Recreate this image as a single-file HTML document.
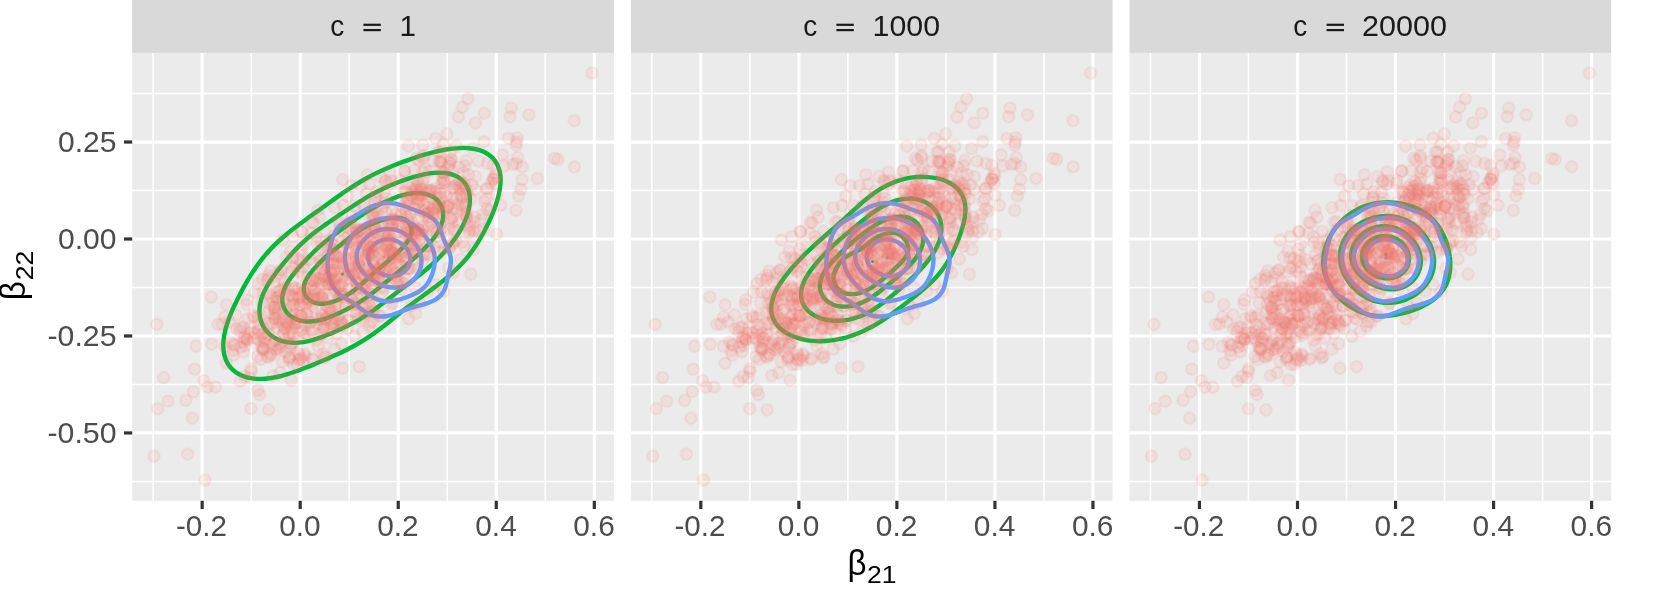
<!DOCTYPE html>
<html><head><meta charset="utf-8"><title>plot</title>
<style>html,body{margin:0;padding:0;background:#fff;overflow:hidden;width:1653px;height:590px;}svg{display:block;will-change:transform;}text{font-family:"Liberation Sans",sans-serif;}</style>
</head><body>
<svg width="1653" height="590" viewBox="0 0 1653 590">
<rect width="1653" height="590" fill="#fff"/>
<defs>
<g id="grid"><rect x="132.2" y="52.9" width="481.7" height="447.9" fill="#EBEBEB"/><line x1="153.14" x2="153.14" y1="52.9" y2="500.8" stroke="#fff" stroke-width="1.6"/><line x1="251.18" x2="251.18" y1="52.9" y2="500.8" stroke="#fff" stroke-width="1.6"/><line x1="349.22" x2="349.22" y1="52.9" y2="500.8" stroke="#fff" stroke-width="1.6"/><line x1="447.26" x2="447.26" y1="52.9" y2="500.8" stroke="#fff" stroke-width="1.6"/><line x1="545.30" x2="545.30" y1="52.9" y2="500.8" stroke="#fff" stroke-width="1.6"/><line x1="132.2" x2="613.9" y1="93.54" y2="93.54" stroke="#fff" stroke-width="1.6"/><line x1="132.2" x2="613.9" y1="190.51" y2="190.51" stroke="#fff" stroke-width="1.6"/><line x1="132.2" x2="613.9" y1="287.49" y2="287.49" stroke="#fff" stroke-width="1.6"/><line x1="132.2" x2="613.9" y1="384.46" y2="384.46" stroke="#fff" stroke-width="1.6"/><line x1="132.2" x2="613.9" y1="481.44" y2="481.44" stroke="#fff" stroke-width="1.6"/><line x1="202.16" x2="202.16" y1="52.9" y2="500.8" stroke="#fff" stroke-width="3.2"/><line x1="300.20" x2="300.20" y1="52.9" y2="500.8" stroke="#fff" stroke-width="3.2"/><line x1="398.24" x2="398.24" y1="52.9" y2="500.8" stroke="#fff" stroke-width="3.2"/><line x1="496.28" x2="496.28" y1="52.9" y2="500.8" stroke="#fff" stroke-width="3.2"/><line x1="594.32" x2="594.32" y1="52.9" y2="500.8" stroke="#fff" stroke-width="3.2"/><line x1="132.2" x2="613.9" y1="142.03" y2="142.03" stroke="#fff" stroke-width="3.2"/><line x1="132.2" x2="613.9" y1="239.00" y2="239.00" stroke="#fff" stroke-width="3.2"/><line x1="132.2" x2="613.9" y1="335.98" y2="335.98" stroke="#fff" stroke-width="3.2"/><line x1="132.2" x2="613.9" y1="432.95" y2="432.95" stroke="#fff" stroke-width="3.2"/><rect x="132.2" y="0" width="481.7" height="52.9" fill="#D9D9D9"/><line x1="202.16" x2="202.16" y1="500.8" y2="509.0" stroke="#333" stroke-width="3.2"/><line x1="300.20" x2="300.20" y1="500.8" y2="509.0" stroke="#333" stroke-width="3.2"/><line x1="398.24" x2="398.24" y1="500.8" y2="509.0" stroke="#333" stroke-width="3.2"/><line x1="496.28" x2="496.28" y1="500.8" y2="509.0" stroke="#333" stroke-width="3.2"/><line x1="594.32" x2="594.32" y1="500.8" y2="509.0" stroke="#333" stroke-width="3.2"/></g>
<g id="blue" fill="none" stroke="#619CFF" stroke-width="4.4" stroke-linejoin="round"><path d="M339.9,225.6C341.1,224.4 342.4,223.4 343.8,222.5C345.2,221.5 346.7,220.6 348.2,219.8C349.6,218.9 351.2,218.1 352.6,217.3C354.1,216.4 355.5,215.6 357.0,214.7C358.5,213.9 360.2,212.8 361.7,211.9C363.2,211.0 364.5,210.2 366.0,209.4C367.5,208.6 369.0,207.8 370.6,207.1C372.2,206.4 373.7,205.7 375.4,205.2C377.1,204.7 379.0,204.2 380.7,203.8C382.4,203.5 384.1,203.2 385.7,203.1C387.4,203.0 389.0,203.0 390.7,203.1C392.3,203.2 394.0,203.4 395.6,203.7C397.3,204.0 398.9,204.5 400.6,205.0C402.3,205.5 404.1,206.2 405.8,206.8C407.5,207.4 409.1,208.0 410.7,208.6C412.3,209.2 413.8,209.8 415.4,210.3C417.0,210.9 418.5,211.4 420.2,212.0C421.8,212.6 423.6,213.2 425.2,213.9C426.8,214.6 428.3,215.4 429.8,216.3C431.2,217.2 432.6,218.2 433.9,219.4C435.1,220.6 436.2,221.9 437.2,223.3C438.2,224.7 438.9,226.1 439.6,227.7C440.4,229.3 440.9,231.1 441.5,232.7C442.1,234.4 442.5,235.9 443.1,237.5C443.6,239.0 444.2,240.6 444.9,242.2C445.6,243.8 446.3,245.3 447.1,246.9C447.8,248.6 448.7,250.4 449.3,252.1C449.8,253.7 450.3,255.3 450.6,256.9C450.9,258.5 450.9,260.2 450.9,261.8C450.8,263.5 450.5,265.1 450.2,266.8C449.9,268.5 449.5,270.1 449.0,271.8C448.6,273.6 448.2,275.5 447.8,277.3C447.4,279.0 447.1,280.7 446.7,282.3C446.3,284.0 446.0,285.6 445.4,287.2C444.9,288.7 444.3,290.2 443.4,291.7C442.5,293.1 441.4,294.6 440.2,295.9C439.0,297.1 437.6,298.1 436.2,299.1C434.7,300.0 433.2,300.8 431.6,301.6C430.0,302.3 428.4,302.9 426.8,303.4C425.2,304.0 423.6,304.4 422.0,304.8C420.3,305.3 418.5,305.8 416.8,306.2C415.1,306.7 413.5,307.1 411.9,307.6C410.3,308.1 408.6,308.7 407.0,309.3C405.4,309.8 403.8,310.5 402.2,311.1C400.5,311.7 398.7,312.5 397.1,313.1C395.4,313.7 394.0,314.3 392.4,314.8C390.8,315.2 389.2,315.7 387.5,316.0C385.9,316.3 384.2,316.5 382.5,316.5C380.8,316.6 379.1,316.6 377.3,316.3C375.6,316.1 373.7,315.7 372.0,315.1C370.3,314.6 368.8,313.9 367.3,313.1C365.9,312.3 364.5,311.3 363.1,310.3C361.7,309.3 360.4,308.3 359.0,307.2C357.6,306.2 356.1,305.0 354.7,304.0C353.3,303.0 351.9,302.1 350.5,301.2C349.0,300.3 347.5,299.5 346.1,298.6C344.6,297.7 343.1,296.9 341.8,295.9C340.4,294.9 339.1,294.0 337.9,292.8C336.6,291.6 335.3,290.1 334.3,288.7C333.3,287.4 332.5,285.9 331.8,284.4C331.0,282.9 330.4,281.3 329.9,279.6C329.3,278.0 328.9,276.4 328.6,274.6C328.2,272.9 327.9,271.0 327.8,269.2C327.6,267.5 327.6,265.9 327.6,264.2C327.6,262.5 327.7,260.8 327.9,259.2C328.0,257.5 328.3,255.8 328.6,254.2C328.9,252.5 329.2,250.9 329.6,249.2C330.0,247.4 330.4,245.5 330.9,243.8C331.4,242.1 331.8,240.5 332.3,238.8C332.9,237.2 333.4,235.6 334.1,234.1C334.8,232.5 335.6,231.1 336.5,229.7C337.5,228.3 338.7,226.8 339.9,225.6Z"/><path d="M345.4,251.7C345.7,250.4 346.0,249.3 346.3,248.1C346.6,246.9 347.0,245.7 347.5,244.6C347.9,243.5 348.4,242.3 349.0,241.2C349.5,240.2 350.1,239.1 350.8,238.0C351.5,237.0 352.3,235.8 353.0,234.8C353.8,233.8 354.6,232.9 355.4,232.0C356.3,231.1 357.2,230.3 358.1,229.5C359.0,228.7 360.0,227.9 361.0,227.2C362.1,226.5 363.3,225.7 364.4,225.0C365.5,224.4 366.6,223.8 367.7,223.3C368.8,222.8 369.9,222.3 371.1,221.8C372.2,221.4 373.4,220.9 374.6,220.6C375.7,220.2 376.9,219.9 378.1,219.5C379.3,219.2 380.7,218.9 381.9,218.7C383.1,218.5 384.3,218.3 385.5,218.2C386.7,218.1 387.9,218.0 389.2,217.9C390.4,217.9 391.6,217.9 392.9,218.0C394.1,218.1 395.6,218.2 396.8,218.4C398.1,218.6 399.3,218.9 400.5,219.2C401.8,219.5 403.0,219.8 404.1,220.2C405.3,220.6 406.5,221.1 407.6,221.6C408.7,222.1 409.8,222.6 410.9,223.3C412.0,223.9 413.1,224.6 414.2,225.3C415.2,226.1 416.1,226.8 417.0,227.5C418.0,228.3 418.9,229.1 419.7,230.0C420.6,230.8 421.4,231.7 422.3,232.6C423.1,233.6 424.0,234.7 424.8,235.7C425.6,236.7 426.3,237.7 427.1,238.7C427.8,239.7 428.5,240.8 429.1,241.9C429.8,243.0 430.4,244.1 431.0,245.2C431.6,246.3 432.1,247.4 432.5,248.6C433.0,249.8 433.5,251.1 433.8,252.3C434.1,253.5 434.4,254.6 434.5,255.8C434.7,257.0 434.8,258.1 434.8,259.3C434.9,260.5 434.8,261.7 434.7,262.9C434.6,264.2 434.4,265.6 434.2,266.8C434.0,268.1 433.7,269.3 433.3,270.5C433.0,271.7 432.6,272.9 432.2,274.1C431.7,275.3 431.3,276.5 430.7,277.6C430.2,278.8 429.7,279.9 429.0,281.0C428.4,282.1 427.6,283.3 426.9,284.3C426.1,285.3 425.4,286.2 424.6,287.0C423.7,287.9 422.9,288.7 421.9,289.4C421.0,290.2 420.1,290.8 419.0,291.5C418.0,292.1 416.8,292.8 415.7,293.4C414.5,293.9 413.4,294.4 412.3,294.9C411.2,295.4 410.0,295.8 408.8,296.3C407.6,296.7 406.4,297.2 405.2,297.6C404.0,298.0 402.9,298.4 401.6,298.8C400.4,299.1 399.0,299.6 397.8,299.9C396.5,300.2 395.4,300.5 394.2,300.7C393.0,300.9 391.8,301.1 390.6,301.2C389.4,301.4 388.3,301.4 387.0,301.4C385.8,301.3 384.4,301.2 383.2,301.0C382.0,300.8 380.8,300.5 379.7,300.2C378.5,299.8 377.3,299.4 376.2,298.9C375.1,298.4 373.9,297.8 372.8,297.2C371.7,296.5 370.7,295.9 369.6,295.2C368.6,294.4 367.4,293.6 366.4,292.8C365.3,292.0 364.4,291.2 363.5,290.4C362.5,289.6 361.6,288.8 360.7,288.0C359.9,287.2 359.0,286.3 358.1,285.4C357.3,284.5 356.3,283.5 355.5,282.6C354.7,281.6 353.9,280.7 353.1,279.8C352.4,278.8 351.7,277.8 351.0,276.8C350.3,275.8 349.6,274.7 349.1,273.6C348.5,272.5 347.9,271.4 347.4,270.3C346.9,269.1 346.4,267.7 346.1,266.5C345.7,265.3 345.5,264.1 345.3,262.9C345.1,261.7 344.9,260.4 344.9,259.2C344.8,258.0 344.8,256.8 344.9,255.5C345.0,254.3 345.2,252.9 345.4,251.7Z"/><path d="M357.2,251.8C357.4,250.9 357.7,250.1 358.0,249.3C358.3,248.5 358.7,247.7 359.1,246.9C359.5,246.1 359.9,245.3 360.4,244.6C360.8,243.8 361.3,243.1 361.9,242.4C362.4,241.6 363.1,240.9 363.7,240.2C364.3,239.5 364.9,238.9 365.5,238.3C366.1,237.6 366.8,237.0 367.5,236.5C368.1,235.9 368.8,235.4 369.5,234.9C370.3,234.4 371.1,233.8 371.9,233.3C372.6,232.9 373.4,232.5 374.1,232.1C374.9,231.7 375.7,231.4 376.5,231.0C377.3,230.7 378.1,230.4 378.9,230.2C379.8,229.9 380.6,229.7 381.5,229.5C382.4,229.4 383.3,229.2 384.3,229.1C385.2,229.0 386.0,228.9 386.9,228.9C387.8,228.9 388.7,228.9 389.6,228.9C390.5,229.0 391.3,229.0 392.2,229.2C393.1,229.3 394.1,229.5 395.0,229.7C395.9,229.9 396.7,230.1 397.6,230.4C398.4,230.7 399.2,231.0 400.0,231.3C400.8,231.7 401.6,232.0 402.4,232.4C403.1,232.8 403.8,233.3 404.6,233.7C405.3,234.2 406.1,234.8 406.9,235.3C407.6,235.9 408.2,236.4 408.9,237.0C409.5,237.5 410.2,238.1 410.8,238.8C411.4,239.4 412.0,240.0 412.6,240.7C413.2,241.4 413.9,242.2 414.4,242.9C415.0,243.6 415.5,244.3 416.0,245.0C416.5,245.8 417.0,246.5 417.5,247.3C417.9,248.1 418.3,248.8 418.7,249.6C419.1,250.4 419.5,251.2 419.8,252.0C420.1,252.9 420.4,253.8 420.7,254.7C420.9,255.5 421.1,256.4 421.2,257.2C421.3,258.0 421.4,258.9 421.5,259.8C421.5,260.6 421.5,261.4 421.4,262.3C421.4,263.2 421.3,264.2 421.1,265.1C421.0,266.0 420.8,266.8 420.5,267.7C420.3,268.5 420.0,269.4 419.7,270.2C419.3,271.0 419.0,271.8 418.6,272.6C418.2,273.4 417.8,274.2 417.3,275.0C416.8,275.7 416.2,276.6 415.7,277.3C415.1,278.1 414.6,278.7 414.0,279.4C413.4,280.0 412.8,280.6 412.1,281.2C411.5,281.8 410.8,282.3 410.1,282.8C409.4,283.4 408.6,283.9 407.8,284.4C407.0,284.8 406.3,285.2 405.5,285.5C404.7,285.9 403.9,286.2 403.1,286.4C402.2,286.7 401.4,286.9 400.5,287.1C399.7,287.2 398.8,287.4 397.9,287.5C397.0,287.6 396.0,287.6 395.1,287.6C394.2,287.6 393.3,287.6 392.4,287.5C391.6,287.5 390.7,287.4 389.8,287.2C388.9,287.1 388.1,286.9 387.2,286.7C386.3,286.5 385.3,286.2 384.5,286.0C383.6,285.7 382.8,285.4 382.0,285.1C381.2,284.8 380.4,284.5 379.6,284.1C378.8,283.7 378.0,283.4 377.2,283.0C376.4,282.6 375.7,282.2 374.9,281.7C374.1,281.3 373.3,280.7 372.5,280.3C371.8,279.8 371.1,279.3 370.4,278.8C369.7,278.3 369.0,277.7 368.3,277.2C367.6,276.6 366.9,276.1 366.3,275.5C365.6,274.9 364.9,274.2 364.2,273.5C363.6,272.8 363.0,272.2 362.4,271.5C361.9,270.8 361.3,270.1 360.8,269.4C360.3,268.7 359.9,267.9 359.4,267.1C359.0,266.4 358.6,265.6 358.3,264.8C357.9,264.0 357.6,263.0 357.4,262.2C357.1,261.3 357.0,260.5 356.8,259.6C356.7,258.8 356.6,257.9 356.6,257.1C356.6,256.2 356.6,255.4 356.7,254.5C356.8,253.6 357.0,252.6 357.2,251.8Z"/><path d="M368.9,252.7C369.0,252.2 369.2,251.6 369.5,251.1C369.7,250.6 370.0,250.1 370.2,249.6C370.5,249.1 370.8,248.6 371.1,248.1C371.5,247.7 371.8,247.2 372.2,246.8C372.5,246.3 373.0,245.8 373.4,245.4C373.8,245.0 374.2,244.6 374.6,244.3C375.0,243.9 375.5,243.6 375.9,243.2C376.4,242.9 376.8,242.6 377.3,242.3C377.8,242.0 378.3,241.7 378.8,241.4C379.4,241.2 379.8,241.0 380.4,240.8C380.9,240.6 381.4,240.4 381.9,240.2C382.5,240.1 383.0,239.9 383.6,239.8C384.1,239.7 384.6,239.6 385.2,239.5C385.8,239.4 386.4,239.4 387.0,239.4C387.6,239.3 388.2,239.3 388.7,239.4C389.3,239.4 389.9,239.4 390.5,239.5C391.0,239.5 391.6,239.6 392.2,239.7C392.7,239.8 393.4,240.0 393.9,240.1C394.5,240.3 395.0,240.5 395.6,240.6C396.1,240.8 396.6,241.0 397.2,241.3C397.7,241.5 398.2,241.7 398.7,242.0C399.2,242.2 399.6,242.5 400.1,242.8C400.6,243.1 401.2,243.5 401.6,243.8C402.1,244.1 402.5,244.5 402.9,244.8C403.4,245.2 403.8,245.5 404.2,245.9C404.6,246.3 405.0,246.7 405.3,247.1C405.7,247.6 406.1,248.1 406.5,248.5C406.8,249.0 407.2,249.5 407.5,249.9C407.8,250.4 408.0,250.9 408.3,251.4C408.6,251.9 408.8,252.4 409.0,253.0C409.2,253.5 409.4,254.0 409.6,254.6C409.8,255.1 409.9,255.8 410.0,256.4C410.2,256.9 410.2,257.5 410.3,258.0C410.3,258.6 410.3,259.2 410.3,259.7C410.3,260.3 410.3,260.8 410.2,261.4C410.1,262.0 410.0,262.6 409.9,263.2C409.7,263.7 409.6,264.2 409.4,264.7C409.2,265.3 408.9,265.8 408.7,266.3C408.4,266.8 408.1,267.2 407.8,267.7C407.5,268.2 407.2,268.6 406.9,269.0C406.5,269.5 406.1,270.0 405.6,270.4C405.2,270.8 404.8,271.2 404.4,271.5C404.0,271.9 403.5,272.2 403.0,272.5C402.6,272.9 402.1,273.2 401.6,273.4C401.1,273.7 400.5,274.0 400.0,274.3C399.4,274.5 398.9,274.7 398.4,274.9C397.9,275.1 397.3,275.3 396.8,275.5C396.2,275.6 395.7,275.7 395.1,275.8C394.6,275.9 394.0,276.0 393.4,276.1C392.9,276.1 392.2,276.2 391.6,276.2C391.1,276.2 390.5,276.2 390.0,276.1C389.4,276.1 388.9,276.0 388.3,276.0C387.8,275.9 387.2,275.8 386.7,275.7C386.1,275.5 385.5,275.4 384.9,275.2C384.4,275.0 383.9,274.8 383.4,274.6C382.8,274.4 382.3,274.2 381.8,274.0C381.3,273.7 380.8,273.5 380.3,273.2C379.8,273.0 379.3,272.7 378.8,272.4C378.3,272.1 377.7,271.7 377.2,271.4C376.8,271.1 376.3,270.7 375.9,270.4C375.4,270.1 374.9,269.7 374.5,269.3C374.1,269.0 373.7,268.6 373.2,268.2C372.8,267.8 372.4,267.3 372.0,266.8C371.6,266.4 371.3,266.0 370.9,265.5C370.6,265.1 370.3,264.6 370.0,264.1C369.8,263.6 369.5,263.2 369.3,262.7C369.1,262.1 368.9,261.7 368.7,261.1C368.5,260.6 368.4,260.0 368.3,259.4C368.2,258.8 368.2,258.3 368.1,257.8C368.1,257.2 368.1,256.7 368.2,256.1C368.2,255.6 368.3,255.0 368.4,254.5C368.5,253.9 368.7,253.3 368.9,252.7Z"/><circle cx="388.7" cy="257.8" r="1.7" fill="#619CFF" stroke="none"/></g>
<g id="pts" fill="#F8766D" fill-opacity="0.1" stroke="#F8766D" stroke-opacity="0.1" stroke-width="2.2"><circle cx="365.6" cy="306.5" r="5.8"/><circle cx="365.5" cy="313.8" r="5.8"/><circle cx="348.3" cy="248.9" r="5.8"/><circle cx="268.6" cy="323.3" r="5.8"/><circle cx="345.7" cy="306.5" r="5.8"/><circle cx="204.8" cy="480.0" r="5.8"/><circle cx="272.9" cy="323.5" r="5.8"/><circle cx="289.3" cy="323.1" r="5.8"/><circle cx="574.3" cy="120.7" r="5.8"/><circle cx="385.8" cy="246.3" r="5.8"/><circle cx="399.3" cy="202.6" r="5.8"/><circle cx="350.0" cy="221.4" r="5.8"/><circle cx="359.9" cy="229.9" r="5.8"/><circle cx="269.1" cy="334.8" r="5.8"/><circle cx="410.6" cy="187.7" r="5.8"/><circle cx="395.7" cy="257.4" r="5.8"/><circle cx="290.1" cy="348.0" r="5.8"/><circle cx="319.5" cy="278.8" r="5.8"/><circle cx="367.2" cy="174.6" r="5.8"/><circle cx="437.7" cy="207.1" r="5.8"/><circle cx="432.5" cy="190.5" r="5.8"/><circle cx="423.4" cy="226.9" r="5.8"/><circle cx="281.0" cy="270.2" r="5.8"/><circle cx="359.1" cy="242.9" r="5.8"/><circle cx="367.8" cy="268.9" r="5.8"/><circle cx="440.5" cy="193.3" r="5.8"/><circle cx="433.1" cy="209.4" r="5.8"/><circle cx="325.5" cy="271.4" r="5.8"/><circle cx="483.8" cy="228.4" r="5.8"/><circle cx="391.5" cy="249.3" r="5.8"/><circle cx="319.4" cy="273.1" r="5.8"/><circle cx="321.9" cy="248.2" r="5.8"/><circle cx="308.0" cy="301.3" r="5.8"/><circle cx="383.0" cy="226.6" r="5.8"/><circle cx="310.2" cy="322.5" r="5.8"/><circle cx="421.5" cy="234.4" r="5.8"/><circle cx="422.8" cy="172.0" r="5.8"/><circle cx="373.3" cy="238.6" r="5.8"/><circle cx="351.2" cy="298.2" r="5.8"/><circle cx="408.3" cy="146.0" r="5.8"/><circle cx="462.3" cy="107.2" r="5.8"/><circle cx="289.8" cy="336.3" r="5.8"/><circle cx="357.2" cy="272.1" r="5.8"/><circle cx="378.5" cy="233.2" r="5.8"/><circle cx="487.2" cy="208.8" r="5.8"/><circle cx="294.9" cy="287.8" r="5.8"/><circle cx="406.0" cy="210.6" r="5.8"/><circle cx="292.2" cy="285.9" r="5.8"/><circle cx="361.5" cy="230.3" r="5.8"/><circle cx="254.9" cy="292.2" r="5.8"/><circle cx="298.7" cy="296.5" r="5.8"/><circle cx="398.4" cy="254.6" r="5.8"/><circle cx="369.2" cy="305.4" r="5.8"/><circle cx="347.8" cy="320.1" r="5.8"/><circle cx="389.5" cy="250.8" r="5.8"/><circle cx="432.8" cy="206.4" r="5.8"/><circle cx="371.0" cy="253.8" r="5.8"/><circle cx="284.3" cy="309.7" r="5.8"/><circle cx="453.3" cy="187.3" r="5.8"/><circle cx="380.4" cy="176.5" r="5.8"/><circle cx="286.9" cy="323.2" r="5.8"/><circle cx="369.5" cy="300.6" r="5.8"/><circle cx="375.1" cy="198.2" r="5.8"/><circle cx="373.9" cy="266.3" r="5.8"/><circle cx="353.2" cy="233.4" r="5.8"/><circle cx="419.2" cy="194.1" r="5.8"/><circle cx="284.6" cy="339.6" r="5.8"/><circle cx="275.7" cy="346.2" r="5.8"/><circle cx="328.5" cy="298.4" r="5.8"/><circle cx="415.4" cy="189.2" r="5.8"/><circle cx="282.8" cy="240.1" r="5.8"/><circle cx="382.6" cy="206.2" r="5.8"/><circle cx="333.3" cy="324.8" r="5.8"/><circle cx="366.4" cy="193.8" r="5.8"/><circle cx="496.5" cy="234.3" r="5.8"/><circle cx="367.5" cy="249.5" r="5.8"/><circle cx="282.0" cy="324.3" r="5.8"/><circle cx="486.0" cy="198.9" r="5.8"/><circle cx="330.3" cy="269.8" r="5.8"/><circle cx="396.9" cy="277.3" r="5.8"/><circle cx="371.7" cy="231.8" r="5.8"/><circle cx="400.5" cy="289.5" r="5.8"/><circle cx="154.0" cy="456.1" r="5.8"/><circle cx="307.7" cy="298.2" r="5.8"/><circle cx="264.3" cy="337.9" r="5.8"/><circle cx="415.6" cy="245.3" r="5.8"/><circle cx="416.5" cy="158.1" r="5.8"/><circle cx="303.2" cy="291.7" r="5.8"/><circle cx="406.0" cy="269.1" r="5.8"/><circle cx="373.5" cy="265.1" r="5.8"/><circle cx="335.8" cy="279.9" r="5.8"/><circle cx="371.7" cy="255.3" r="5.8"/><circle cx="280.1" cy="304.4" r="5.8"/><circle cx="392.5" cy="223.2" r="5.8"/><circle cx="394.3" cy="219.5" r="5.8"/><circle cx="268.7" cy="357.4" r="5.8"/><circle cx="473.7" cy="230.8" r="5.8"/><circle cx="379.0" cy="316.1" r="5.8"/><circle cx="342.4" cy="293.8" r="5.8"/><circle cx="334.1" cy="285.9" r="5.8"/><circle cx="383.8" cy="251.6" r="5.8"/><circle cx="416.2" cy="249.2" r="5.8"/><circle cx="345.7" cy="243.6" r="5.8"/><circle cx="336.5" cy="301.6" r="5.8"/><circle cx="244.7" cy="376.4" r="5.8"/><circle cx="346.7" cy="243.8" r="5.8"/><circle cx="442.3" cy="176.8" r="5.8"/><circle cx="387.8" cy="244.2" r="5.8"/><circle cx="385.4" cy="202.7" r="5.8"/><circle cx="414.4" cy="170.6" r="5.8"/><circle cx="294.8" cy="304.2" r="5.8"/><circle cx="373.4" cy="279.5" r="5.8"/><circle cx="441.7" cy="163.6" r="5.8"/><circle cx="360.8" cy="185.6" r="5.8"/><circle cx="364.7" cy="289.8" r="5.8"/><circle cx="334.3" cy="270.3" r="5.8"/><circle cx="264.5" cy="341.6" r="5.8"/><circle cx="261.4" cy="347.4" r="5.8"/><circle cx="368.4" cy="254.2" r="5.8"/><circle cx="168.0" cy="401.1" r="5.8"/><circle cx="386.5" cy="278.2" r="5.8"/><circle cx="404.3" cy="241.7" r="5.8"/><circle cx="358.8" cy="262.3" r="5.8"/><circle cx="516.1" cy="145.1" r="5.8"/><circle cx="359.9" cy="265.9" r="5.8"/><circle cx="517.3" cy="137.8" r="5.8"/><circle cx="440.1" cy="161.8" r="5.8"/><circle cx="357.0" cy="283.6" r="5.8"/><circle cx="359.5" cy="279.1" r="5.8"/><circle cx="372.6" cy="246.3" r="5.8"/><circle cx="415.4" cy="194.3" r="5.8"/><circle cx="423.6" cy="204.3" r="5.8"/><circle cx="378.7" cy="273.4" r="5.8"/><circle cx="351.5" cy="185.9" r="5.8"/><circle cx="427.5" cy="246.3" r="5.8"/><circle cx="327.9" cy="263.0" r="5.8"/><circle cx="434.8" cy="209.4" r="5.8"/><circle cx="279.5" cy="291.0" r="5.8"/><circle cx="268.7" cy="312.4" r="5.8"/><circle cx="334.1" cy="254.8" r="5.8"/><circle cx="284.5" cy="328.6" r="5.8"/><circle cx="365.3" cy="228.8" r="5.8"/><circle cx="331.2" cy="323.7" r="5.8"/><circle cx="373.8" cy="310.9" r="5.8"/><circle cx="408.3" cy="268.8" r="5.8"/><circle cx="353.9" cy="240.1" r="5.8"/><circle cx="352.2" cy="273.3" r="5.8"/><circle cx="295.3" cy="323.6" r="5.8"/><circle cx="222.1" cy="324.0" r="5.8"/><circle cx="468.0" cy="98.7" r="5.8"/><circle cx="376.6" cy="191.8" r="5.8"/><circle cx="262.6" cy="279.3" r="5.8"/><circle cx="386.5" cy="237.1" r="5.8"/><circle cx="311.4" cy="233.3" r="5.8"/><circle cx="394.2" cy="253.2" r="5.8"/><circle cx="371.7" cy="234.4" r="5.8"/><circle cx="338.8" cy="295.6" r="5.8"/><circle cx="407.0" cy="257.4" r="5.8"/><circle cx="247.9" cy="318.9" r="5.8"/><circle cx="333.0" cy="328.7" r="5.8"/><circle cx="373.5" cy="225.9" r="5.8"/><circle cx="408.7" cy="318.8" r="5.8"/><circle cx="357.5" cy="287.9" r="5.8"/><circle cx="395.1" cy="233.4" r="5.8"/><circle cx="250.6" cy="332.3" r="5.8"/><circle cx="267.5" cy="280.2" r="5.8"/><circle cx="512.7" cy="164.3" r="5.8"/><circle cx="232.5" cy="350.7" r="5.8"/><circle cx="456.5" cy="210.1" r="5.8"/><circle cx="409.6" cy="243.6" r="5.8"/><circle cx="315.3" cy="281.6" r="5.8"/><circle cx="451.4" cy="159.2" r="5.8"/><circle cx="407.7" cy="219.6" r="5.8"/><circle cx="434.4" cy="200.8" r="5.8"/><circle cx="382.3" cy="286.8" r="5.8"/><circle cx="489.9" cy="210.9" r="5.8"/><circle cx="334.9" cy="278.2" r="5.8"/><circle cx="469.9" cy="229.6" r="5.8"/><circle cx="276.0" cy="349.2" r="5.8"/><circle cx="318.5" cy="254.4" r="5.8"/><circle cx="496.6" cy="195.1" r="5.8"/><circle cx="351.5" cy="258.1" r="5.8"/><circle cx="451.4" cy="218.2" r="5.8"/><circle cx="406.1" cy="202.1" r="5.8"/><circle cx="466.2" cy="160.5" r="5.8"/><circle cx="371.4" cy="229.1" r="5.8"/><circle cx="389.2" cy="184.6" r="5.8"/><circle cx="267.3" cy="335.0" r="5.8"/><circle cx="362.9" cy="259.9" r="5.8"/><circle cx="448.3" cy="166.2" r="5.8"/><circle cx="293.4" cy="342.1" r="5.8"/><circle cx="389.8" cy="257.9" r="5.8"/><circle cx="351.4" cy="270.3" r="5.8"/><circle cx="404.0" cy="283.4" r="5.8"/><circle cx="418.8" cy="160.1" r="5.8"/><circle cx="329.4" cy="308.8" r="5.8"/><circle cx="444.9" cy="249.3" r="5.8"/><circle cx="468.9" cy="232.5" r="5.8"/><circle cx="293.7" cy="364.5" r="5.8"/><circle cx="417.6" cy="199.0" r="5.8"/><circle cx="493.1" cy="179.1" r="5.8"/><circle cx="452.5" cy="198.2" r="5.8"/><circle cx="253.6" cy="337.9" r="5.8"/><circle cx="373.8" cy="272.3" r="5.8"/><circle cx="256.8" cy="338.5" r="5.8"/><circle cx="433.8" cy="213.3" r="5.8"/><circle cx="451.4" cy="179.6" r="5.8"/><circle cx="412.3" cy="190.9" r="5.8"/><circle cx="450.2" cy="218.5" r="5.8"/><circle cx="475.5" cy="122.9" r="5.8"/><circle cx="348.9" cy="296.3" r="5.8"/><circle cx="324.4" cy="357.8" r="5.8"/><circle cx="374.8" cy="227.7" r="5.8"/><circle cx="282.0" cy="269.9" r="5.8"/><circle cx="334.8" cy="322.1" r="5.8"/><circle cx="426.6" cy="254.2" r="5.8"/><circle cx="245.2" cy="345.6" r="5.8"/><circle cx="449.0" cy="229.2" r="5.8"/><circle cx="418.5" cy="229.1" r="5.8"/><circle cx="454.2" cy="229.0" r="5.8"/><circle cx="388.8" cy="225.9" r="5.8"/><circle cx="452.9" cy="188.7" r="5.8"/><circle cx="407.3" cy="199.2" r="5.8"/><circle cx="407.1" cy="192.8" r="5.8"/><circle cx="427.1" cy="234.6" r="5.8"/><circle cx="278.6" cy="312.8" r="5.8"/><circle cx="328.4" cy="308.3" r="5.8"/><circle cx="427.7" cy="207.4" r="5.8"/><circle cx="385.6" cy="180.5" r="5.8"/><circle cx="315.6" cy="289.9" r="5.8"/><circle cx="224.9" cy="316.8" r="5.8"/><circle cx="460.7" cy="189.4" r="5.8"/><circle cx="385.4" cy="233.2" r="5.8"/><circle cx="268.6" cy="409.8" r="5.8"/><circle cx="231.0" cy="342.0" r="5.8"/><circle cx="187.7" cy="454.2" r="5.8"/><circle cx="419.3" cy="232.8" r="5.8"/><circle cx="436.2" cy="232.7" r="5.8"/><circle cx="306.7" cy="298.0" r="5.8"/><circle cx="447.8" cy="206.3" r="5.8"/><circle cx="325.0" cy="302.5" r="5.8"/><circle cx="455.7" cy="240.6" r="5.8"/><circle cx="378.3" cy="277.5" r="5.8"/><circle cx="319.5" cy="217.1" r="5.8"/><circle cx="278.2" cy="300.8" r="5.8"/><circle cx="325.5" cy="317.9" r="5.8"/><circle cx="438.3" cy="151.9" r="5.8"/><circle cx="465.4" cy="185.7" r="5.8"/><circle cx="303.1" cy="332.5" r="5.8"/><circle cx="321.7" cy="314.6" r="5.8"/><circle cx="340.7" cy="320.2" r="5.8"/><circle cx="328.4" cy="277.8" r="5.8"/><circle cx="350.6" cy="228.5" r="5.8"/><circle cx="240.1" cy="381.4" r="5.8"/><circle cx="412.9" cy="185.1" r="5.8"/><circle cx="410.3" cy="202.7" r="5.8"/><circle cx="368.3" cy="275.9" r="5.8"/><circle cx="307.3" cy="288.8" r="5.8"/><circle cx="398.6" cy="281.2" r="5.8"/><circle cx="393.3" cy="232.9" r="5.8"/><circle cx="439.4" cy="205.3" r="5.8"/><circle cx="382.1" cy="292.9" r="5.8"/><circle cx="495.6" cy="173.5" r="5.8"/><circle cx="334.8" cy="207.7" r="5.8"/><circle cx="379.9" cy="268.8" r="5.8"/><circle cx="332.1" cy="259.7" r="5.8"/><circle cx="418.7" cy="217.2" r="5.8"/><circle cx="395.9" cy="214.1" r="5.8"/><circle cx="407.7" cy="205.6" r="5.8"/><circle cx="409.6" cy="249.1" r="5.8"/><circle cx="260.9" cy="335.5" r="5.8"/><circle cx="340.7" cy="293.9" r="5.8"/><circle cx="410.4" cy="213.7" r="5.8"/><circle cx="508.4" cy="138.3" r="5.8"/><circle cx="372.3" cy="270.9" r="5.8"/><circle cx="384.2" cy="192.3" r="5.8"/><circle cx="385.4" cy="182.0" r="5.8"/><circle cx="369.4" cy="183.9" r="5.8"/><circle cx="340.4" cy="283.8" r="5.8"/><circle cx="392.5" cy="210.7" r="5.8"/><circle cx="423.1" cy="260.6" r="5.8"/><circle cx="273.3" cy="344.3" r="5.8"/><circle cx="274.1" cy="307.9" r="5.8"/><circle cx="325.5" cy="319.6" r="5.8"/><circle cx="447.0" cy="134.0" r="5.8"/><circle cx="351.4" cy="299.2" r="5.8"/><circle cx="421.0" cy="191.9" r="5.8"/><circle cx="323.1" cy="353.8" r="5.8"/><circle cx="449.4" cy="248.9" r="5.8"/><circle cx="279.9" cy="372.6" r="5.8"/><circle cx="259.9" cy="341.1" r="5.8"/><circle cx="355.4" cy="298.6" r="5.8"/><circle cx="334.1" cy="255.5" r="5.8"/><circle cx="373.0" cy="263.4" r="5.8"/><circle cx="270.4" cy="353.7" r="5.8"/><circle cx="322.6" cy="316.0" r="5.8"/><circle cx="398.1" cy="224.8" r="5.8"/><circle cx="348.0" cy="268.9" r="5.8"/><circle cx="460.0" cy="194.8" r="5.8"/><circle cx="243.3" cy="351.8" r="5.8"/><circle cx="425.2" cy="210.4" r="5.8"/><circle cx="372.4" cy="216.3" r="5.8"/><circle cx="357.8" cy="318.2" r="5.8"/><circle cx="233.5" cy="344.1" r="5.8"/><circle cx="372.2" cy="284.4" r="5.8"/><circle cx="449.5" cy="161.9" r="5.8"/><circle cx="296.6" cy="258.7" r="5.8"/><circle cx="276.5" cy="313.8" r="5.8"/><circle cx="364.4" cy="228.2" r="5.8"/><circle cx="313.7" cy="299.3" r="5.8"/><circle cx="316.0" cy="308.5" r="5.8"/><circle cx="293.3" cy="305.7" r="5.8"/><circle cx="364.8" cy="275.5" r="5.8"/><circle cx="418.1" cy="268.6" r="5.8"/><circle cx="440.9" cy="242.3" r="5.8"/><circle cx="304.4" cy="335.6" r="5.8"/><circle cx="342.0" cy="323.6" r="5.8"/><circle cx="396.9" cy="261.4" r="5.8"/><circle cx="380.1" cy="252.6" r="5.8"/><circle cx="341.4" cy="292.6" r="5.8"/><circle cx="316.0" cy="278.8" r="5.8"/><circle cx="416.0" cy="243.9" r="5.8"/><circle cx="367.3" cy="297.1" r="5.8"/><circle cx="270.5" cy="270.9" r="5.8"/><circle cx="377.1" cy="246.3" r="5.8"/><circle cx="329.5" cy="239.7" r="5.8"/><circle cx="296.9" cy="294.2" r="5.8"/><circle cx="331.9" cy="311.3" r="5.8"/><circle cx="273.1" cy="375.7" r="5.8"/><circle cx="486.5" cy="188.3" r="5.8"/><circle cx="358.8" cy="263.8" r="5.8"/><circle cx="379.6" cy="266.5" r="5.8"/><circle cx="292.8" cy="296.3" r="5.8"/><circle cx="321.9" cy="333.9" r="5.8"/><circle cx="277.7" cy="350.3" r="5.8"/><circle cx="284.3" cy="288.5" r="5.8"/><circle cx="311.8" cy="222.2" r="5.8"/><circle cx="518.6" cy="195.9" r="5.8"/><circle cx="466.8" cy="212.9" r="5.8"/><circle cx="261.1" cy="315.0" r="5.8"/><circle cx="280.2" cy="295.1" r="5.8"/><circle cx="338.2" cy="320.0" r="5.8"/><circle cx="410.9" cy="268.2" r="5.8"/><circle cx="411.2" cy="232.2" r="5.8"/><circle cx="366.2" cy="253.5" r="5.8"/><circle cx="381.6" cy="248.6" r="5.8"/><circle cx="392.9" cy="253.3" r="5.8"/><circle cx="262.9" cy="347.7" r="5.8"/><circle cx="355.0" cy="303.4" r="5.8"/><circle cx="417.1" cy="198.7" r="5.8"/><circle cx="318.6" cy="293.0" r="5.8"/><circle cx="353.6" cy="243.7" r="5.8"/><circle cx="383.8" cy="235.7" r="5.8"/><circle cx="338.7" cy="257.8" r="5.8"/><circle cx="364.6" cy="205.0" r="5.8"/><circle cx="414.8" cy="209.5" r="5.8"/><circle cx="362.3" cy="288.7" r="5.8"/><circle cx="370.8" cy="321.8" r="5.8"/><circle cx="410.3" cy="227.6" r="5.8"/><circle cx="284.7" cy="327.8" r="5.8"/><circle cx="452.7" cy="244.0" r="5.8"/><circle cx="449.4" cy="247.3" r="5.8"/><circle cx="304.7" cy="356.0" r="5.8"/><circle cx="293.5" cy="299.5" r="5.8"/><circle cx="254.3" cy="332.8" r="5.8"/><circle cx="443.1" cy="180.3" r="5.8"/><circle cx="374.9" cy="209.8" r="5.8"/><circle cx="368.0" cy="251.3" r="5.8"/><circle cx="330.6" cy="272.9" r="5.8"/><circle cx="316.3" cy="340.0" r="5.8"/><circle cx="290.5" cy="251.2" r="5.8"/><circle cx="410.9" cy="306.1" r="5.8"/><circle cx="372.6" cy="214.1" r="5.8"/><circle cx="391.9" cy="219.4" r="5.8"/><circle cx="341.6" cy="285.1" r="5.8"/><circle cx="448.8" cy="268.0" r="5.8"/><circle cx="328.5" cy="282.5" r="5.8"/><circle cx="292.7" cy="289.0" r="5.8"/><circle cx="263.1" cy="291.8" r="5.8"/><circle cx="289.1" cy="295.0" r="5.8"/><circle cx="409.0" cy="231.8" r="5.8"/><circle cx="347.5" cy="228.0" r="5.8"/><circle cx="352.8" cy="288.1" r="5.8"/><circle cx="369.3" cy="247.9" r="5.8"/><circle cx="302.0" cy="231.6" r="5.8"/><circle cx="224.9" cy="346.4" r="5.8"/><circle cx="400.0" cy="264.5" r="5.8"/><circle cx="344.9" cy="257.6" r="5.8"/><circle cx="400.9" cy="215.1" r="5.8"/><circle cx="450.4" cy="164.0" r="5.8"/><circle cx="339.3" cy="221.7" r="5.8"/><circle cx="364.6" cy="283.1" r="5.8"/><circle cx="323.1" cy="329.1" r="5.8"/><circle cx="185.8" cy="400.3" r="5.8"/><circle cx="367.5" cy="254.4" r="5.8"/><circle cx="374.2" cy="275.7" r="5.8"/><circle cx="520.9" cy="189.1" r="5.8"/><circle cx="330.6" cy="306.2" r="5.8"/><circle cx="317.2" cy="298.4" r="5.8"/><circle cx="423.6" cy="178.5" r="5.8"/><circle cx="379.9" cy="253.9" r="5.8"/><circle cx="273.8" cy="314.9" r="5.8"/><circle cx="273.0" cy="341.6" r="5.8"/><circle cx="342.6" cy="368.1" r="5.8"/><circle cx="313.3" cy="279.1" r="5.8"/><circle cx="312.5" cy="359.7" r="5.8"/><circle cx="275.7" cy="339.8" r="5.8"/><circle cx="405.0" cy="251.3" r="5.8"/><circle cx="375.6" cy="275.8" r="5.8"/><circle cx="331.9" cy="272.9" r="5.8"/><circle cx="373.5" cy="322.2" r="5.8"/><circle cx="419.4" cy="184.7" r="5.8"/><circle cx="471.9" cy="184.8" r="5.8"/><circle cx="340.6" cy="285.8" r="5.8"/><circle cx="407.9" cy="200.3" r="5.8"/><circle cx="334.7" cy="322.9" r="5.8"/><circle cx="241.0" cy="347.2" r="5.8"/><circle cx="313.8" cy="290.8" r="5.8"/><circle cx="332.1" cy="284.3" r="5.8"/><circle cx="338.9" cy="314.9" r="5.8"/><circle cx="434.1" cy="231.2" r="5.8"/><circle cx="393.6" cy="253.1" r="5.8"/><circle cx="226.4" cy="304.7" r="5.8"/><circle cx="355.9" cy="289.9" r="5.8"/><circle cx="574.4" cy="166.9" r="5.8"/><circle cx="328.4" cy="266.5" r="5.8"/><circle cx="334.6" cy="349.1" r="5.8"/><circle cx="394.2" cy="279.3" r="5.8"/><circle cx="394.4" cy="263.9" r="5.8"/><circle cx="301.0" cy="248.8" r="5.8"/><circle cx="298.1" cy="322.5" r="5.8"/><circle cx="258.2" cy="330.6" r="5.8"/><circle cx="428.7" cy="220.8" r="5.8"/><circle cx="322.1" cy="295.8" r="5.8"/><circle cx="411.1" cy="253.5" r="5.8"/><circle cx="293.5" cy="298.0" r="5.8"/><circle cx="480.0" cy="232.2" r="5.8"/><circle cx="416.0" cy="259.8" r="5.8"/><circle cx="250.5" cy="326.9" r="5.8"/><circle cx="395.8" cy="220.0" r="5.8"/><circle cx="416.7" cy="231.3" r="5.8"/><circle cx="444.3" cy="179.4" r="5.8"/><circle cx="416.8" cy="189.9" r="5.8"/><circle cx="458.0" cy="204.0" r="5.8"/><circle cx="465.5" cy="206.5" r="5.8"/><circle cx="336.8" cy="263.1" r="5.8"/><circle cx="348.4" cy="236.1" r="5.8"/><circle cx="465.7" cy="204.3" r="5.8"/><circle cx="473.9" cy="237.3" r="5.8"/><circle cx="435.8" cy="284.6" r="5.8"/><circle cx="487.4" cy="163.5" r="5.8"/><circle cx="322.5" cy="269.4" r="5.8"/><circle cx="280.6" cy="290.8" r="5.8"/><circle cx="364.9" cy="266.7" r="5.8"/><circle cx="342.2" cy="267.1" r="5.8"/><circle cx="327.6" cy="284.8" r="5.8"/><circle cx="243.0" cy="342.3" r="5.8"/><circle cx="277.4" cy="297.3" r="5.8"/><circle cx="385.9" cy="245.4" r="5.8"/><circle cx="439.2" cy="161.5" r="5.8"/><circle cx="282.8" cy="321.6" r="5.8"/><circle cx="320.8" cy="260.3" r="5.8"/><circle cx="447.2" cy="205.8" r="5.8"/><circle cx="500.7" cy="205.3" r="5.8"/><circle cx="554.5" cy="158.4" r="5.8"/><circle cx="362.5" cy="307.7" r="5.8"/><circle cx="274.8" cy="318.7" r="5.8"/><circle cx="270.3" cy="295.9" r="5.8"/><circle cx="401.7" cy="222.4" r="5.8"/><circle cx="407.2" cy="232.8" r="5.8"/><circle cx="528.9" cy="114.8" r="5.8"/><circle cx="308.3" cy="259.6" r="5.8"/><circle cx="439.3" cy="252.5" r="5.8"/><circle cx="392.8" cy="270.1" r="5.8"/><circle cx="275.6" cy="297.5" r="5.8"/><circle cx="336.8" cy="222.0" r="5.8"/><circle cx="468.0" cy="226.6" r="5.8"/><circle cx="251.1" cy="371.4" r="5.8"/><circle cx="361.2" cy="237.7" r="5.8"/><circle cx="465.4" cy="193.4" r="5.8"/><circle cx="522.1" cy="179.7" r="5.8"/><circle cx="282.6" cy="335.2" r="5.8"/><circle cx="372.5" cy="303.9" r="5.8"/><circle cx="374.0" cy="217.2" r="5.8"/><circle cx="357.0" cy="232.3" r="5.8"/><circle cx="314.7" cy="298.7" r="5.8"/><circle cx="304.4" cy="354.0" r="5.8"/><circle cx="392.3" cy="251.9" r="5.8"/><circle cx="307.0" cy="314.3" r="5.8"/><circle cx="400.5" cy="256.3" r="5.8"/><circle cx="218.1" cy="324.4" r="5.8"/><circle cx="247.1" cy="299.9" r="5.8"/><circle cx="321.8" cy="284.0" r="5.8"/><circle cx="416.6" cy="186.3" r="5.8"/><circle cx="483.0" cy="214.3" r="5.8"/><circle cx="296.9" cy="323.3" r="5.8"/><circle cx="359.3" cy="366.6" r="5.8"/><circle cx="312.4" cy="358.2" r="5.8"/><circle cx="298.1" cy="352.1" r="5.8"/><circle cx="319.4" cy="334.6" r="5.8"/><circle cx="517.8" cy="157.5" r="5.8"/><circle cx="273.7" cy="307.3" r="5.8"/><circle cx="440.3" cy="197.7" r="5.8"/><circle cx="427.8" cy="213.3" r="5.8"/><circle cx="417.7" cy="234.1" r="5.8"/><circle cx="294.3" cy="314.9" r="5.8"/><circle cx="310.6" cy="322.0" r="5.8"/><circle cx="452.4" cy="171.4" r="5.8"/><circle cx="375.2" cy="284.6" r="5.8"/><circle cx="356.8" cy="230.4" r="5.8"/><circle cx="253.2" cy="315.3" r="5.8"/><circle cx="368.6" cy="252.0" r="5.8"/><circle cx="355.7" cy="257.7" r="5.8"/><circle cx="310.7" cy="285.9" r="5.8"/><circle cx="442.4" cy="214.0" r="5.8"/><circle cx="339.6" cy="275.0" r="5.8"/><circle cx="405.2" cy="279.2" r="5.8"/><circle cx="204.0" cy="380.6" r="5.8"/><circle cx="465.0" cy="165.9" r="5.8"/><circle cx="422.6" cy="145.1" r="5.8"/><circle cx="459.3" cy="187.0" r="5.8"/><circle cx="328.8" cy="278.4" r="5.8"/><circle cx="327.8" cy="338.0" r="5.8"/><circle cx="418.6" cy="229.4" r="5.8"/><circle cx="370.4" cy="246.6" r="5.8"/><circle cx="285.0" cy="295.4" r="5.8"/><circle cx="286.9" cy="288.3" r="5.8"/><circle cx="330.0" cy="279.0" r="5.8"/><circle cx="321.0" cy="242.6" r="5.8"/><circle cx="325.0" cy="231.3" r="5.8"/><circle cx="352.9" cy="276.6" r="5.8"/><circle cx="301.6" cy="231.6" r="5.8"/><circle cx="351.0" cy="268.7" r="5.8"/><circle cx="211.6" cy="344.2" r="5.8"/><circle cx="323.9" cy="273.3" r="5.8"/><circle cx="334.4" cy="245.3" r="5.8"/><circle cx="292.2" cy="317.0" r="5.8"/><circle cx="366.7" cy="283.0" r="5.8"/><circle cx="192.3" cy="418.2" r="5.8"/><circle cx="396.7" cy="246.2" r="5.8"/><circle cx="414.2" cy="245.7" r="5.8"/><circle cx="303.5" cy="360.5" r="5.8"/><circle cx="294.5" cy="325.2" r="5.8"/><circle cx="268.3" cy="275.3" r="5.8"/><circle cx="303.3" cy="244.4" r="5.8"/><circle cx="450.8" cy="159.6" r="5.8"/><circle cx="484.2" cy="113.2" r="5.8"/><circle cx="297.9" cy="337.5" r="5.8"/><circle cx="347.8" cy="320.5" r="5.8"/><circle cx="475.8" cy="176.6" r="5.8"/><circle cx="157.7" cy="408.7" r="5.8"/><circle cx="421.0" cy="209.6" r="5.8"/><circle cx="390.4" cy="267.8" r="5.8"/><circle cx="265.9" cy="339.1" r="5.8"/><circle cx="321.4" cy="295.9" r="5.8"/><circle cx="321.7" cy="268.1" r="5.8"/><circle cx="254.3" cy="317.2" r="5.8"/><circle cx="516.6" cy="142.0" r="5.8"/><circle cx="387.4" cy="239.5" r="5.8"/><circle cx="316.1" cy="280.6" r="5.8"/><circle cx="382.7" cy="262.3" r="5.8"/><circle cx="397.3" cy="258.5" r="5.8"/><circle cx="464.2" cy="246.3" r="5.8"/><circle cx="452.1" cy="222.0" r="5.8"/><circle cx="405.6" cy="191.3" r="5.8"/><circle cx="504.1" cy="166.0" r="5.8"/><circle cx="373.5" cy="236.8" r="5.8"/><circle cx="403.0" cy="227.5" r="5.8"/><circle cx="592.0" cy="73.0" r="5.8"/><circle cx="416.4" cy="232.5" r="5.8"/><circle cx="273.0" cy="301.3" r="5.8"/><circle cx="364.1" cy="276.4" r="5.8"/><circle cx="430.8" cy="197.3" r="5.8"/><circle cx="292.8" cy="258.0" r="5.8"/><circle cx="444.8" cy="208.5" r="5.8"/><circle cx="340.3" cy="296.0" r="5.8"/><circle cx="358.4" cy="241.3" r="5.8"/><circle cx="321.7" cy="318.6" r="5.8"/><circle cx="333.9" cy="263.5" r="5.8"/><circle cx="300.4" cy="360.0" r="5.8"/><circle cx="279.1" cy="348.2" r="5.8"/><circle cx="478.5" cy="161.2" r="5.8"/><circle cx="452.9" cy="216.9" r="5.8"/><circle cx="412.6" cy="197.8" r="5.8"/><circle cx="275.1" cy="318.4" r="5.8"/><circle cx="449.4" cy="204.1" r="5.8"/><circle cx="450.4" cy="151.9" r="5.8"/><circle cx="435.0" cy="192.1" r="5.8"/><circle cx="354.4" cy="206.0" r="5.8"/><circle cx="472.9" cy="148.5" r="5.8"/><circle cx="442.2" cy="208.9" r="5.8"/><circle cx="495.6" cy="183.1" r="5.8"/><circle cx="331.7" cy="248.9" r="5.8"/><circle cx="387.9" cy="236.1" r="5.8"/><circle cx="384.5" cy="262.7" r="5.8"/><circle cx="247.1" cy="339.8" r="5.8"/><circle cx="409.0" cy="242.6" r="5.8"/><circle cx="305.9" cy="333.2" r="5.8"/><circle cx="408.8" cy="268.6" r="5.8"/><circle cx="412.1" cy="222.3" r="5.8"/><circle cx="425.9" cy="215.5" r="5.8"/><circle cx="281.3" cy="346.3" r="5.8"/><circle cx="363.0" cy="331.5" r="5.8"/><circle cx="393.3" cy="257.8" r="5.8"/><circle cx="295.3" cy="266.8" r="5.8"/><circle cx="440.6" cy="223.9" r="5.8"/><circle cx="336.5" cy="277.2" r="5.8"/><circle cx="423.1" cy="158.0" r="5.8"/><circle cx="316.5" cy="236.6" r="5.8"/><circle cx="322.9" cy="298.9" r="5.8"/><circle cx="341.2" cy="343.6" r="5.8"/><circle cx="480.8" cy="220.2" r="5.8"/><circle cx="211.3" cy="297.1" r="5.8"/><circle cx="419.5" cy="240.3" r="5.8"/><circle cx="258.1" cy="283.6" r="5.8"/><circle cx="314.3" cy="295.7" r="5.8"/><circle cx="352.1" cy="215.8" r="5.8"/><circle cx="357.0" cy="312.4" r="5.8"/><circle cx="268.8" cy="278.1" r="5.8"/><circle cx="194.6" cy="369.2" r="5.8"/><circle cx="339.8" cy="229.3" r="5.8"/><circle cx="355.4" cy="227.7" r="5.8"/><circle cx="347.2" cy="195.9" r="5.8"/><circle cx="295.3" cy="319.8" r="5.8"/><circle cx="386.5" cy="268.0" r="5.8"/><circle cx="321.9" cy="320.8" r="5.8"/><circle cx="400.8" cy="215.0" r="5.8"/><circle cx="279.9" cy="343.6" r="5.8"/><circle cx="360.1" cy="230.2" r="5.8"/><circle cx="260.9" cy="359.4" r="5.8"/><circle cx="304.6" cy="303.1" r="5.8"/><circle cx="443.6" cy="291.5" r="5.8"/><circle cx="311.6" cy="280.2" r="5.8"/><circle cx="384.1" cy="269.3" r="5.8"/><circle cx="382.2" cy="261.4" r="5.8"/><circle cx="425.1" cy="169.2" r="5.8"/><circle cx="301.8" cy="315.6" r="5.8"/><circle cx="434.3" cy="247.3" r="5.8"/><circle cx="234.4" cy="345.3" r="5.8"/><circle cx="284.6" cy="282.4" r="5.8"/><circle cx="341.8" cy="277.3" r="5.8"/><circle cx="415.5" cy="313.7" r="5.8"/><circle cx="408.9" cy="222.9" r="5.8"/><circle cx="358.5" cy="264.7" r="5.8"/><circle cx="406.7" cy="217.4" r="5.8"/><circle cx="381.7" cy="265.0" r="5.8"/><circle cx="257.4" cy="356.8" r="5.8"/><circle cx="370.8" cy="288.1" r="5.8"/><circle cx="429.3" cy="190.8" r="5.8"/><circle cx="323.8" cy="276.1" r="5.8"/><circle cx="286.2" cy="257.1" r="5.8"/><circle cx="289.4" cy="357.4" r="5.8"/><circle cx="392.0" cy="304.2" r="5.8"/><circle cx="444.1" cy="172.9" r="5.8"/><circle cx="360.0" cy="239.9" r="5.8"/><circle cx="419.6" cy="302.9" r="5.8"/><circle cx="156.6" cy="324.4" r="5.8"/><circle cx="372.1" cy="241.7" r="5.8"/><circle cx="433.3" cy="208.2" r="5.8"/><circle cx="226.4" cy="363.1" r="5.8"/><circle cx="356.4" cy="274.2" r="5.8"/><circle cx="510.1" cy="116.6" r="5.8"/><circle cx="330.7" cy="328.3" r="5.8"/><circle cx="350.7" cy="251.9" r="5.8"/><circle cx="468.5" cy="174.5" r="5.8"/><circle cx="403.9" cy="259.1" r="5.8"/><circle cx="388.5" cy="260.4" r="5.8"/><circle cx="298.5" cy="288.7" r="5.8"/><circle cx="436.1" cy="188.3" r="5.8"/><circle cx="474.7" cy="217.1" r="5.8"/><circle cx="369.4" cy="326.1" r="5.8"/><circle cx="263.7" cy="349.3" r="5.8"/><circle cx="334.8" cy="306.4" r="5.8"/><circle cx="302.6" cy="255.7" r="5.8"/><circle cx="516.1" cy="163.5" r="5.8"/><circle cx="396.5" cy="272.8" r="5.8"/><circle cx="334.6" cy="235.3" r="5.8"/><circle cx="340.8" cy="322.1" r="5.8"/><circle cx="301.1" cy="296.8" r="5.8"/><circle cx="303.2" cy="267.3" r="5.8"/><circle cx="401.1" cy="281.3" r="5.8"/><circle cx="422.0" cy="234.7" r="5.8"/><circle cx="263.4" cy="348.6" r="5.8"/><circle cx="414.0" cy="227.2" r="5.8"/><circle cx="389.1" cy="253.4" r="5.8"/><circle cx="394.6" cy="247.2" r="5.8"/><circle cx="396.6" cy="282.3" r="5.8"/><circle cx="357.5" cy="260.4" r="5.8"/><circle cx="493.1" cy="165.2" r="5.8"/><circle cx="390.8" cy="225.5" r="5.8"/><circle cx="409.9" cy="232.0" r="5.8"/><circle cx="339.6" cy="255.5" r="5.8"/><circle cx="511.3" cy="108.1" r="5.8"/><circle cx="329.9" cy="247.5" r="5.8"/><circle cx="320.3" cy="260.7" r="5.8"/><circle cx="420.9" cy="199.7" r="5.8"/><circle cx="388.1" cy="274.7" r="5.8"/><circle cx="370.6" cy="247.8" r="5.8"/><circle cx="342.9" cy="296.9" r="5.8"/><circle cx="251.2" cy="368.7" r="5.8"/><circle cx="249.6" cy="377.6" r="5.8"/><circle cx="239.8" cy="331.3" r="5.8"/><circle cx="387.5" cy="241.7" r="5.8"/><circle cx="267.1" cy="356.1" r="5.8"/><circle cx="435.1" cy="214.0" r="5.8"/><circle cx="368.6" cy="254.7" r="5.8"/><circle cx="312.5" cy="303.0" r="5.8"/><circle cx="317.1" cy="323.4" r="5.8"/><circle cx="441.5" cy="171.8" r="5.8"/><circle cx="429.4" cy="255.1" r="5.8"/><circle cx="329.6" cy="284.8" r="5.8"/><circle cx="404.3" cy="171.1" r="5.8"/><circle cx="455.6" cy="185.8" r="5.8"/><circle cx="215.4" cy="387.1" r="5.8"/><circle cx="402.9" cy="266.0" r="5.8"/><circle cx="443.6" cy="144.3" r="5.8"/><circle cx="466.3" cy="189.6" r="5.8"/><circle cx="438.9" cy="202.6" r="5.8"/><circle cx="347.0" cy="328.5" r="5.8"/><circle cx="278.2" cy="273.0" r="5.8"/><circle cx="473.8" cy="222.0" r="5.8"/><circle cx="461.8" cy="197.6" r="5.8"/><circle cx="293.5" cy="322.7" r="5.8"/><circle cx="431.3" cy="223.0" r="5.8"/><circle cx="537.4" cy="178.5" r="5.8"/><circle cx="262.9" cy="333.7" r="5.8"/><circle cx="305.4" cy="287.6" r="5.8"/><circle cx="419.7" cy="195.2" r="5.8"/><circle cx="333.9" cy="271.0" r="5.8"/><circle cx="394.2" cy="254.6" r="5.8"/><circle cx="307.1" cy="318.1" r="5.8"/><circle cx="413.3" cy="233.9" r="5.8"/><circle cx="233.6" cy="355.2" r="5.8"/><circle cx="329.0" cy="284.2" r="5.8"/><circle cx="430.4" cy="191.1" r="5.8"/><circle cx="440.2" cy="151.9" r="5.8"/><circle cx="372.1" cy="312.8" r="5.8"/><circle cx="318.9" cy="296.4" r="5.8"/><circle cx="456.4" cy="198.4" r="5.8"/><circle cx="417.2" cy="229.5" r="5.8"/><circle cx="349.1" cy="223.1" r="5.8"/><circle cx="393.0" cy="275.6" r="5.8"/><circle cx="374.4" cy="272.7" r="5.8"/><circle cx="399.1" cy="182.8" r="5.8"/><circle cx="422.5" cy="230.6" r="5.8"/><circle cx="386.7" cy="267.8" r="5.8"/><circle cx="422.3" cy="189.5" r="5.8"/><circle cx="243.0" cy="326.8" r="5.8"/><circle cx="274.3" cy="281.9" r="5.8"/><circle cx="343.3" cy="325.3" r="5.8"/><circle cx="413.4" cy="254.3" r="5.8"/><circle cx="399.6" cy="180.0" r="5.8"/><circle cx="298.5" cy="359.6" r="5.8"/><circle cx="269.6" cy="304.0" r="5.8"/><circle cx="364.8" cy="287.6" r="5.8"/><circle cx="374.9" cy="227.6" r="5.8"/><circle cx="196.1" cy="346.1" r="5.8"/><circle cx="355.8" cy="281.5" r="5.8"/><circle cx="333.3" cy="264.0" r="5.8"/><circle cx="370.3" cy="240.8" r="5.8"/><circle cx="304.5" cy="299.4" r="5.8"/><circle cx="293.1" cy="236.7" r="5.8"/><circle cx="429.4" cy="189.5" r="5.8"/><circle cx="388.2" cy="239.9" r="5.8"/><circle cx="303.0" cy="285.6" r="5.8"/><circle cx="383.9" cy="288.8" r="5.8"/><circle cx="344.7" cy="269.9" r="5.8"/><circle cx="247.0" cy="339.8" r="5.8"/><circle cx="207.5" cy="387.1" r="5.8"/><circle cx="377.8" cy="213.3" r="5.8"/><circle cx="333.9" cy="317.1" r="5.8"/><circle cx="326.8" cy="317.2" r="5.8"/><circle cx="300.4" cy="305.2" r="5.8"/><circle cx="380.8" cy="315.9" r="5.8"/><circle cx="259.6" cy="324.6" r="5.8"/><circle cx="358.7" cy="266.8" r="5.8"/><circle cx="392.8" cy="302.3" r="5.8"/><circle cx="348.3" cy="274.7" r="5.8"/><circle cx="406.9" cy="230.2" r="5.8"/><circle cx="298.7" cy="298.1" r="5.8"/><circle cx="461.9" cy="209.9" r="5.8"/><circle cx="382.3" cy="250.3" r="5.8"/><circle cx="343.4" cy="205.6" r="5.8"/><circle cx="327.8" cy="255.8" r="5.8"/><circle cx="309.3" cy="330.0" r="5.8"/><circle cx="403.5" cy="192.3" r="5.8"/><circle cx="423.7" cy="255.0" r="5.8"/><circle cx="443.1" cy="172.7" r="5.8"/><circle cx="323.7" cy="327.0" r="5.8"/><circle cx="410.8" cy="195.4" r="5.8"/><circle cx="465.0" cy="214.2" r="5.8"/><circle cx="318.1" cy="319.1" r="5.8"/><circle cx="244.1" cy="337.7" r="5.8"/><circle cx="291.3" cy="343.9" r="5.8"/><circle cx="470.6" cy="198.9" r="5.8"/><circle cx="353.8" cy="275.1" r="5.8"/><circle cx="386.2" cy="212.2" r="5.8"/><circle cx="286.1" cy="309.2" r="5.8"/><circle cx="257.9" cy="390.1" r="5.8"/><circle cx="456.4" cy="146.0" r="5.8"/><circle cx="312.5" cy="306.6" r="5.8"/><circle cx="336.5" cy="333.3" r="5.8"/><circle cx="409.6" cy="253.7" r="5.8"/><circle cx="286.2" cy="351.7" r="5.8"/><circle cx="453.1" cy="242.0" r="5.8"/><circle cx="433.6" cy="161.2" r="5.8"/><circle cx="495.9" cy="176.3" r="5.8"/><circle cx="303.4" cy="276.8" r="5.8"/><circle cx="475.6" cy="189.6" r="5.8"/><circle cx="374.1" cy="243.6" r="5.8"/><circle cx="326.6" cy="305.7" r="5.8"/><circle cx="389.2" cy="219.9" r="5.8"/><circle cx="428.2" cy="192.4" r="5.8"/><circle cx="396.8" cy="248.3" r="5.8"/><circle cx="398.1" cy="232.1" r="5.8"/><circle cx="403.5" cy="208.6" r="5.8"/><circle cx="353.6" cy="311.4" r="5.8"/><circle cx="377.5" cy="221.7" r="5.8"/><circle cx="345.7" cy="305.9" r="5.8"/><circle cx="352.8" cy="305.2" r="5.8"/><circle cx="293.1" cy="268.2" r="5.8"/><circle cx="373.3" cy="259.8" r="5.8"/><circle cx="337.4" cy="255.9" r="5.8"/><circle cx="316.5" cy="242.2" r="5.8"/><circle cx="299.8" cy="260.8" r="5.8"/><circle cx="440.9" cy="189.5" r="5.8"/><circle cx="310.6" cy="288.1" r="5.8"/><circle cx="246.6" cy="304.3" r="5.8"/><circle cx="361.4" cy="286.9" r="5.8"/><circle cx="330.1" cy="313.4" r="5.8"/><circle cx="466.6" cy="217.4" r="5.8"/><circle cx="305.2" cy="325.4" r="5.8"/><circle cx="456.7" cy="184.1" r="5.8"/><circle cx="362.6" cy="296.4" r="5.8"/><circle cx="381.7" cy="208.7" r="5.8"/><circle cx="364.8" cy="313.0" r="5.8"/><circle cx="348.6" cy="273.1" r="5.8"/><circle cx="423.0" cy="155.8" r="5.8"/><circle cx="421.7" cy="195.6" r="5.8"/><circle cx="376.0" cy="196.1" r="5.8"/><circle cx="404.4" cy="171.0" r="5.8"/><circle cx="313.7" cy="222.9" r="5.8"/><circle cx="455.7" cy="230.7" r="5.8"/><circle cx="372.5" cy="225.8" r="5.8"/><circle cx="324.1" cy="328.3" r="5.8"/><circle cx="484.0" cy="141.7" r="5.8"/><circle cx="372.8" cy="252.4" r="5.8"/><circle cx="316.7" cy="278.3" r="5.8"/><circle cx="289.4" cy="357.1" r="5.8"/><circle cx="453.3" cy="208.9" r="5.8"/><circle cx="311.9" cy="330.5" r="5.8"/><circle cx="317.8" cy="210.2" r="5.8"/><circle cx="388.9" cy="234.3" r="5.8"/><circle cx="262.9" cy="350.7" r="5.8"/><circle cx="338.8" cy="286.7" r="5.8"/><circle cx="274.9" cy="310.1" r="5.8"/><circle cx="428.2" cy="212.9" r="5.8"/><circle cx="244.2" cy="338.5" r="5.8"/><circle cx="261.9" cy="302.6" r="5.8"/><circle cx="370.2" cy="216.8" r="5.8"/><circle cx="417.8" cy="202.5" r="5.8"/><circle cx="248.3" cy="332.9" r="5.8"/><circle cx="444.7" cy="191.7" r="5.8"/><circle cx="290.9" cy="271.8" r="5.8"/><circle cx="346.8" cy="237.9" r="5.8"/><circle cx="462.5" cy="185.3" r="5.8"/><circle cx="287.3" cy="321.9" r="5.8"/><circle cx="458.4" cy="117.0" r="5.8"/><circle cx="163.8" cy="377.6" r="5.8"/><circle cx="463.4" cy="172.8" r="5.8"/><circle cx="460.7" cy="259.1" r="5.8"/><circle cx="442.1" cy="227.8" r="5.8"/><circle cx="427.9" cy="291.0" r="5.8"/><circle cx="301.3" cy="316.1" r="5.8"/><circle cx="398.2" cy="220.9" r="5.8"/><circle cx="419.6" cy="201.5" r="5.8"/><circle cx="429.8" cy="171.4" r="5.8"/><circle cx="493.9" cy="179.7" r="5.8"/><circle cx="443.2" cy="202.2" r="5.8"/><circle cx="299.9" cy="315.5" r="5.8"/><circle cx="435.6" cy="138.3" r="5.8"/><circle cx="391.2" cy="180.8" r="5.8"/><circle cx="290.6" cy="345.1" r="5.8"/><circle cx="297.5" cy="364.4" r="5.8"/><circle cx="300.2" cy="315.5" r="5.8"/><circle cx="378.7" cy="276.0" r="5.8"/><circle cx="443.2" cy="215.5" r="5.8"/><circle cx="458.8" cy="167.1" r="5.8"/><circle cx="235.9" cy="315.0" r="5.8"/><circle cx="378.7" cy="269.2" r="5.8"/><circle cx="346.6" cy="265.1" r="5.8"/><circle cx="363.6" cy="245.0" r="5.8"/><circle cx="444.3" cy="182.6" r="5.8"/><circle cx="464.0" cy="183.4" r="5.8"/><circle cx="420.5" cy="189.4" r="5.8"/><circle cx="259.8" cy="394.6" r="5.8"/><circle cx="292.2" cy="305.4" r="5.8"/><circle cx="271.1" cy="355.2" r="5.8"/><circle cx="557.9" cy="159.5" r="5.8"/><circle cx="376.1" cy="273.0" r="5.8"/><circle cx="493.4" cy="178.1" r="5.8"/><circle cx="491.2" cy="182.8" r="5.8"/><circle cx="342.3" cy="241.2" r="5.8"/><circle cx="304.9" cy="291.8" r="5.8"/><circle cx="443.1" cy="231.7" r="5.8"/><circle cx="262.3" cy="327.8" r="5.8"/><circle cx="411.8" cy="239.9" r="5.8"/><circle cx="257.8" cy="317.4" r="5.8"/><circle cx="422.1" cy="211.4" r="5.8"/><circle cx="349.6" cy="252.6" r="5.8"/><circle cx="289.1" cy="359.7" r="5.8"/><circle cx="447.9" cy="206.9" r="5.8"/><circle cx="268.7" cy="293.2" r="5.8"/><circle cx="280.6" cy="277.9" r="5.8"/><circle cx="461.3" cy="205.6" r="5.8"/><circle cx="348.6" cy="288.8" r="5.8"/><circle cx="374.6" cy="202.6" r="5.8"/><circle cx="422.7" cy="182.3" r="5.8"/><circle cx="362.4" cy="242.5" r="5.8"/><circle cx="393.2" cy="273.3" r="5.8"/><circle cx="374.5" cy="216.1" r="5.8"/><circle cx="332.5" cy="281.5" r="5.8"/><circle cx="328.3" cy="248.0" r="5.8"/><circle cx="441.9" cy="183.3" r="5.8"/><circle cx="516.1" cy="210.4" r="5.8"/><circle cx="369.6" cy="271.7" r="5.8"/><circle cx="302.3" cy="273.0" r="5.8"/><circle cx="355.3" cy="255.4" r="5.8"/><circle cx="390.8" cy="251.1" r="5.8"/><circle cx="487.2" cy="188.9" r="5.8"/><circle cx="429.1" cy="246.3" r="5.8"/><circle cx="392.4" cy="224.0" r="5.8"/><circle cx="270.3" cy="324.2" r="5.8"/><circle cx="356.7" cy="240.5" r="5.8"/><circle cx="360.1" cy="319.6" r="5.8"/><circle cx="299.2" cy="354.9" r="5.8"/><circle cx="290.1" cy="333.2" r="5.8"/><circle cx="288.3" cy="334.4" r="5.8"/><circle cx="470.9" cy="274.1" r="5.8"/><circle cx="427.6" cy="194.4" r="5.8"/><circle cx="321.9" cy="297.5" r="5.8"/><circle cx="282.4" cy="319.0" r="5.8"/><circle cx="296.4" cy="309.9" r="5.8"/><circle cx="363.2" cy="274.8" r="5.8"/><circle cx="462.3" cy="242.3" r="5.8"/><circle cx="350.4" cy="260.4" r="5.8"/><circle cx="277.7" cy="327.5" r="5.8"/><circle cx="318.1" cy="346.0" r="5.8"/><circle cx="405.4" cy="257.3" r="5.8"/><circle cx="334.5" cy="291.2" r="5.8"/><circle cx="327.5" cy="284.1" r="5.8"/><circle cx="301.0" cy="330.6" r="5.8"/><circle cx="458.9" cy="222.9" r="5.8"/><circle cx="356.8" cy="247.9" r="5.8"/><circle cx="274.8" cy="307.0" r="5.8"/><circle cx="344.1" cy="280.5" r="5.8"/><circle cx="286.5" cy="321.8" r="5.8"/><circle cx="318.8" cy="283.7" r="5.8"/><circle cx="432.0" cy="212.5" r="5.8"/><circle cx="415.4" cy="288.0" r="5.8"/><circle cx="338.9" cy="306.7" r="5.8"/><circle cx="473.5" cy="249.7" r="5.8"/><circle cx="342.9" cy="179.7" r="5.8"/><circle cx="374.2" cy="237.9" r="5.8"/><circle cx="399.6" cy="241.1" r="5.8"/><circle cx="459.6" cy="181.5" r="5.8"/><circle cx="236.5" cy="328.7" r="5.8"/><circle cx="356.8" cy="304.2" r="5.8"/><circle cx="283.9" cy="333.3" r="5.8"/><circle cx="484.2" cy="201.4" r="5.8"/><circle cx="467.1" cy="194.2" r="5.8"/><circle cx="469.9" cy="225.0" r="5.8"/><circle cx="385.0" cy="232.3" r="5.8"/><circle cx="386.3" cy="198.6" r="5.8"/><circle cx="306.1" cy="313.6" r="5.8"/><circle cx="409.7" cy="236.7" r="5.8"/><circle cx="313.4" cy="264.0" r="5.8"/><circle cx="193.4" cy="391.6" r="5.8"/><circle cx="293.2" cy="334.2" r="5.8"/><circle cx="229.5" cy="321.8" r="5.8"/><circle cx="300.7" cy="357.8" r="5.8"/><circle cx="388.7" cy="222.6" r="5.8"/><circle cx="466.6" cy="217.9" r="5.8"/><circle cx="276.6" cy="291.9" r="5.8"/><circle cx="379.4" cy="281.7" r="5.8"/><circle cx="453.0" cy="272.8" r="5.8"/><circle cx="282.6" cy="361.7" r="5.8"/><circle cx="351.1" cy="279.6" r="5.8"/><circle cx="502.4" cy="154.9" r="5.8"/><circle cx="428.9" cy="217.5" r="5.8"/><circle cx="333.8" cy="250.0" r="5.8"/><circle cx="369.5" cy="254.6" r="5.8"/><circle cx="335.0" cy="289.0" r="5.8"/><circle cx="251.1" cy="408.7" r="5.8"/><circle cx="336.4" cy="256.5" r="5.8"/><circle cx="305.5" cy="304.5" r="5.8"/><circle cx="437.3" cy="228.5" r="5.8"/><circle cx="299.7" cy="304.4" r="5.8"/><circle cx="441.1" cy="161.2" r="5.8"/><circle cx="399.1" cy="285.7" r="5.8"/><circle cx="462.7" cy="197.1" r="5.8"/><circle cx="279.7" cy="320.5" r="5.8"/><circle cx="372.0" cy="294.8" r="5.8"/><circle cx="389.7" cy="240.8" r="5.8"/><circle cx="354.3" cy="336.3" r="5.8"/><circle cx="389.8" cy="172.0" r="5.8"/><circle cx="359.2" cy="232.3" r="5.8"/><circle cx="437.4" cy="236.2" r="5.8"/><circle cx="298.8" cy="271.3" r="5.8"/><circle cx="344.2" cy="262.6" r="5.8"/><circle cx="240.4" cy="327.7" r="5.8"/><circle cx="309.7" cy="299.7" r="5.8"/><circle cx="428.4" cy="226.3" r="5.8"/><circle cx="417.7" cy="181.9" r="5.8"/><circle cx="522.1" cy="166.9" r="5.8"/><circle cx="404.9" cy="234.2" r="5.8"/><circle cx="446.0" cy="196.2" r="5.8"/><circle cx="302.0" cy="261.2" r="5.8"/><circle cx="292.0" cy="328.3" r="5.8"/><circle cx="331.2" cy="241.5" r="5.8"/><circle cx="282.8" cy="299.8" r="5.8"/><circle cx="291.3" cy="380.2" r="5.8"/><circle cx="363.2" cy="207.0" r="5.8"/><circle cx="246.6" cy="338.5" r="5.8"/><circle cx="325.5" cy="356.7" r="5.8"/><circle cx="341.5" cy="263.7" r="5.8"/></g>
</defs>
<use href="#grid" x="0.00"/>
<use href="#grid" x="498.65"/>
<use href="#grid" x="997.30"/>
<g fill="none" stroke="#00BA38" stroke-width="4.4" stroke-linejoin="round">
<path d="M286.6,234.2C289.5,231.8 292.3,229.6 295.1,227.5C298.0,225.3 300.8,223.2 303.6,221.2C306.5,219.1 309.3,217.1 312.0,215.1C314.8,213.1 317.5,211.2 320.3,209.2C323.2,207.1 326.3,204.8 329.2,202.7C332.2,200.6 334.9,198.7 337.8,196.6C340.7,194.6 343.6,192.5 346.6,190.5C349.7,188.5 352.6,186.5 355.9,184.5C359.1,182.5 362.8,180.3 366.1,178.5C369.4,176.6 372.5,175.0 375.7,173.4C378.9,171.8 382.1,170.3 385.3,168.9C388.5,167.5 391.7,166.2 394.8,165.0C398.0,163.7 401.0,162.6 404.3,161.4C407.5,160.2 411.1,159.0 414.5,157.9C417.9,156.7 421.0,155.7 424.4,154.7C427.8,153.7 431.3,152.7 434.9,151.9C438.5,151.0 442.1,150.1 445.9,149.5C449.8,148.9 454.2,148.3 458.1,148.1C462.0,147.8 465.7,147.8 469.3,148.2C472.9,148.6 476.4,149.2 479.6,150.2C482.8,151.2 485.8,152.6 488.3,154.4C490.9,156.1 493.1,158.1 494.9,160.7C496.7,163.2 498.3,166.5 499.2,169.6C500.2,172.7 500.5,175.9 500.6,179.4C500.7,182.8 500.3,186.4 499.7,190.0C499.1,193.6 498.2,197.2 497.1,200.9C496.0,204.7 494.4,208.8 493.0,212.5C491.6,216.1 490.1,219.4 488.5,222.7C487.0,226.0 485.3,229.2 483.7,232.3C482.0,235.4 480.3,238.4 478.5,241.3C476.8,244.2 475.0,246.9 473.0,249.8C471.0,252.6 468.7,255.7 466.5,258.4C464.2,261.1 462.0,263.6 459.6,266.1C457.1,268.6 454.5,271.0 451.9,273.4C449.2,275.8 446.5,278.0 443.6,280.4C440.6,282.8 437.2,285.3 434.2,287.6C431.2,289.8 428.3,291.9 425.4,294.0C422.5,296.1 419.6,298.2 416.8,300.3C414.0,302.4 411.2,304.4 408.4,306.5C405.7,308.6 403.1,310.6 400.3,312.8C397.5,315.1 394.5,317.5 391.7,319.7C388.9,322.0 386.3,324.1 383.5,326.3C380.6,328.4 377.8,330.6 374.9,332.7C371.9,334.8 369.0,336.8 365.8,338.8C362.7,340.8 359.1,343.0 355.8,344.9C352.5,346.7 349.4,348.4 346.2,350.0C343.0,351.6 339.8,353.1 336.6,354.6C333.4,356.1 330.3,357.4 327.1,358.8C324.0,360.1 321.0,361.4 317.7,362.8C314.5,364.1 310.9,365.6 307.6,366.9C304.3,368.2 301.1,369.4 297.8,370.7C294.4,371.9 291.0,373.1 287.5,374.1C284.0,375.2 280.5,376.2 276.7,377.0C272.9,377.7 268.6,378.5 264.8,378.7C260.9,379.0 257.3,379.0 253.8,378.6C250.3,378.2 246.8,377.5 243.7,376.4C240.5,375.2 237.6,373.7 235.1,371.8C232.6,369.9 230.4,367.7 228.6,365.0C226.8,362.3 225.4,358.9 224.5,355.6C223.6,352.4 223.3,349.0 223.3,345.6C223.2,342.1 223.7,338.4 224.3,334.8C224.9,331.2 225.9,327.7 227.1,324.0C228.2,320.3 229.8,316.2 231.2,312.7C232.7,309.1 234.2,305.9 235.8,302.7C237.3,299.4 238.9,296.3 240.5,293.2C242.1,290.1 243.7,287.1 245.4,284.2C247.1,281.2 248.7,278.4 250.6,275.4C252.5,272.4 254.6,269.1 256.6,266.2C258.7,263.3 260.7,260.6 263.0,257.8C265.2,255.1 267.6,252.3 270.0,249.7C272.5,247.0 275.0,244.5 277.8,242.0C280.6,239.4 283.7,236.6 286.6,234.2Z"/>
<path d="M303.9,241.5C305.9,239.6 307.8,237.9 309.9,236.2C311.9,234.5 314.0,232.9 316.1,231.3C318.2,229.7 320.3,228.2 322.4,226.7C324.5,225.1 326.6,223.7 328.8,222.2C331.0,220.7 333.4,219.1 335.7,217.6C337.9,216.0 340.0,214.7 342.1,213.2C344.3,211.7 346.5,210.3 348.7,208.8C350.9,207.3 353.1,205.9 355.4,204.4C357.7,202.9 360.3,201.2 362.7,199.8C365.1,198.3 367.3,197.0 369.6,195.7C371.9,194.3 374.3,193.1 376.6,191.9C379.0,190.6 381.3,189.5 383.6,188.4C386.0,187.3 388.2,186.3 390.7,185.3C393.1,184.3 395.8,183.2 398.2,182.2C400.7,181.3 403.0,180.5 405.5,179.6C407.9,178.8 410.4,178.0 413.0,177.2C415.5,176.4 418.0,175.7 420.8,175.1C423.5,174.4 426.6,173.8 429.5,173.4C432.3,173.0 435.0,172.7 437.7,172.6C440.5,172.6 443.2,172.7 445.8,173.0C448.4,173.4 451.0,174.0 453.3,174.9C455.7,175.7 457.9,176.8 459.8,178.3C461.8,179.7 463.8,181.7 465.2,183.6C466.6,185.6 467.6,187.7 468.4,190.0C469.2,192.3 469.6,194.8 469.8,197.4C470.0,199.9 469.9,202.6 469.5,205.3C469.2,208.1 468.4,211.2 467.6,213.9C466.8,216.7 465.8,219.2 464.7,221.7C463.6,224.2 462.3,226.7 461.0,229.1C459.7,231.4 458.2,233.7 456.8,235.9C455.4,238.1 453.9,240.1 452.3,242.2C450.7,244.4 448.9,246.6 447.3,248.6C445.6,250.6 444.0,252.4 442.2,254.3C440.5,256.2 438.7,258.0 436.9,259.8C435.0,261.6 433.2,263.4 431.2,265.2C429.1,267.0 426.8,269.0 424.7,270.8C422.5,272.6 420.5,274.2 418.4,275.9C416.3,277.6 414.1,279.2 412.0,280.9C409.9,282.5 407.8,284.1 405.7,285.7C403.6,287.3 401.6,288.8 399.4,290.5C397.3,292.1 395.0,293.9 392.9,295.6C390.8,297.2 388.8,298.7 386.8,300.3C384.8,301.9 382.7,303.5 380.6,305.1C378.6,306.6 376.5,308.1 374.3,309.7C372.1,311.3 369.6,313.0 367.3,314.6C364.9,316.1 362.7,317.5 360.4,318.8C358.1,320.2 355.8,321.5 353.4,322.8C351.1,324.1 348.7,325.3 346.3,326.4C344.0,327.6 341.7,328.7 339.2,329.8C336.8,330.9 334.1,332.1 331.6,333.2C329.1,334.2 326.8,335.2 324.4,336.1C322.0,337.0 319.6,337.9 317.1,338.7C314.6,339.5 312.2,340.3 309.6,340.9C306.9,341.5 303.9,342.1 301.2,342.4C298.4,342.8 295.8,342.9 293.2,342.8C290.5,342.7 287.8,342.5 285.2,341.9C282.6,341.3 280.0,340.5 277.7,339.4C275.3,338.4 273.0,337.1 271.0,335.4C268.9,333.8 266.8,331.6 265.2,329.5C263.7,327.4 262.5,325.1 261.6,322.7C260.6,320.4 260.0,317.8 259.7,315.3C259.4,312.7 259.4,310.1 259.6,307.4C259.9,304.7 260.5,301.7 261.3,299.1C262.1,296.5 263.1,294.1 264.2,291.7C265.3,289.3 266.6,286.9 267.9,284.6C269.2,282.4 270.7,280.2 272.2,278.0C273.7,275.9 275.2,273.9 276.8,271.7C278.4,269.6 280.3,267.3 282.0,265.2C283.7,263.1 285.3,261.1 287.0,259.1C288.7,257.2 290.4,255.2 292.2,253.2C294.0,251.3 295.7,249.4 297.7,247.4C299.6,245.5 301.8,243.3 303.9,241.5Z"/>
<path d="M324.0,242.7C325.6,241.4 327.2,240.2 328.8,238.9C330.3,237.7 331.9,236.5 333.5,235.3C335.1,234.1 336.7,232.9 338.3,231.8C339.9,230.6 341.4,229.5 343.1,228.3C344.7,227.1 346.5,225.8 348.2,224.6C349.8,223.4 351.4,222.3 353.0,221.1C354.6,220.0 356.2,218.8 357.9,217.7C359.5,216.5 361.1,215.4 362.9,214.3C364.6,213.1 366.5,211.9 368.3,210.8C370.1,209.7 371.8,208.7 373.5,207.8C375.3,206.8 377.0,205.8 378.8,204.9C380.6,204.0 382.3,203.2 384.1,202.3C385.9,201.5 387.6,200.7 389.4,200.0C391.3,199.2 393.4,198.3 395.3,197.6C397.2,196.9 398.9,196.3 400.8,195.7C402.7,195.2 404.7,194.7 406.7,194.2C408.6,193.8 410.6,193.5 412.7,193.3C414.8,193.1 417.1,193.0 419.2,193.1C421.3,193.2 423.3,193.4 425.2,193.9C427.2,194.3 429.1,195.0 430.9,195.8C432.6,196.6 434.3,197.6 435.7,198.8C437.2,200.0 438.5,201.4 439.6,203.0C440.6,204.5 441.6,206.5 442.2,208.3C442.8,210.2 443.1,212.0 443.2,213.9C443.2,215.9 443.1,217.9 442.7,219.8C442.4,221.8 441.8,223.7 441.0,225.6C440.3,227.6 439.2,229.7 438.2,231.6C437.1,233.4 436.0,235.1 434.8,236.7C433.6,238.4 432.3,239.9 431.0,241.4C429.7,243.0 428.3,244.4 427.0,245.8C425.6,247.3 424.3,248.6 422.9,250.0C421.4,251.4 419.8,252.9 418.4,254.3C416.9,255.6 415.5,256.9 414.1,258.2C412.6,259.5 411.2,260.8 409.7,262.2C408.2,263.5 406.7,264.7 405.2,266.1C403.6,267.4 401.8,268.9 400.2,270.3C398.6,271.6 397.1,272.9 395.6,274.1C394.1,275.4 392.5,276.7 391.0,278.0C389.5,279.2 387.9,280.5 386.4,281.7C384.9,283.0 383.5,284.2 381.9,285.5C380.3,286.8 378.6,288.2 377.0,289.4C375.4,290.7 373.9,291.9 372.4,293.1C370.8,294.3 369.2,295.5 367.6,296.7C366.0,297.8 364.4,298.9 362.6,300.1C360.9,301.2 358.9,302.5 357.1,303.6C355.3,304.6 353.6,305.6 351.9,306.6C350.1,307.5 348.3,308.5 346.6,309.4C344.8,310.3 343.0,311.2 341.3,312.0C339.5,312.9 337.8,313.6 335.9,314.4C334.1,315.3 332.0,316.1 330.2,316.8C328.3,317.6 326.5,318.2 324.6,318.8C322.7,319.4 320.8,319.9 318.9,320.3C316.9,320.8 315.0,321.1 312.9,321.3C310.8,321.5 308.5,321.6 306.4,321.5C304.3,321.3 302.3,321.0 300.3,320.6C298.4,320.1 296.4,319.4 294.7,318.5C292.9,317.7 291.2,316.6 289.7,315.4C288.2,314.1 286.9,312.8 285.8,311.2C284.8,309.6 283.8,307.6 283.2,305.8C282.6,304.0 282.3,302.1 282.2,300.2C282.1,298.3 282.3,296.4 282.7,294.5C283.1,292.6 283.6,290.7 284.4,288.8C285.2,286.8 286.3,284.7 287.3,282.9C288.3,281.1 289.5,279.5 290.6,277.8C291.8,276.2 293.1,274.6 294.4,273.0C295.6,271.5 296.9,270.0 298.2,268.5C299.5,267.0 300.8,265.6 302.1,264.1C303.5,262.6 305.0,261.0 306.4,259.5C307.8,258.0 309.1,256.6 310.5,255.2C311.9,253.8 313.3,252.4 314.7,251.0C316.2,249.7 317.6,248.3 319.1,246.9C320.7,245.6 322.4,244.1 324.0,242.7Z"/>
<path d="M335.8,248.6C336.9,247.7 337.9,247.0 338.9,246.1C340.0,245.3 341.0,244.5 342.1,243.7C343.1,242.9 344.1,242.1 345.1,241.3C346.2,240.5 347.1,239.7 348.2,238.8C349.2,237.9 350.4,237.0 351.5,236.1C352.6,235.3 353.6,234.5 354.7,233.7C355.8,232.9 356.9,232.1 358.0,231.4C359.1,230.6 360.2,229.9 361.4,229.2C362.6,228.5 364.0,227.7 365.2,227.1C366.4,226.4 367.6,225.9 368.8,225.3C370.0,224.7 371.1,224.2 372.3,223.7C373.5,223.2 374.7,222.7 375.9,222.3C377.1,221.8 378.3,221.4 379.6,220.9C380.9,220.5 382.3,220.0 383.6,219.6C384.9,219.2 386.2,218.9 387.5,218.6C388.8,218.3 390.2,218.0 391.5,217.9C392.9,217.7 394.3,217.6 395.7,217.6C397.1,217.6 398.7,217.7 400.1,218.0C401.4,218.2 402.7,218.6 403.9,219.1C405.1,219.6 406.2,220.3 407.2,221.0C408.1,221.8 409.0,222.7 409.6,223.6C410.3,224.6 410.8,225.7 411.1,226.9C411.5,228.1 411.6,229.5 411.6,230.8C411.5,232.1 411.3,233.3 410.9,234.6C410.5,235.8 410.0,237.1 409.4,238.3C408.8,239.6 408.1,240.7 407.2,241.9C406.4,243.1 405.4,244.4 404.5,245.5C403.6,246.6 402.7,247.5 401.7,248.5C400.8,249.5 399.8,250.4 398.9,251.3C398.0,252.2 397.0,253.1 396.1,254.0C395.1,254.8 394.2,255.7 393.2,256.6C392.3,257.5 391.2,258.4 390.1,259.3C389.1,260.2 388.2,261.1 387.2,261.9C386.1,262.8 385.1,263.6 384.1,264.5C383.0,265.4 382.0,266.2 380.9,267.1C379.8,268.0 378.6,269.0 377.5,269.9C376.4,270.8 375.4,271.6 374.4,272.5C373.4,273.4 372.4,274.2 371.4,275.1C370.4,276.0 369.4,276.9 368.5,277.7C367.5,278.6 366.6,279.5 365.6,280.4C364.6,281.3 363.5,282.3 362.5,283.2C361.5,284.2 360.6,285.0 359.6,285.9C358.6,286.8 357.5,287.6 356.5,288.5C355.4,289.3 354.4,290.1 353.3,290.9C352.1,291.8 350.8,292.6 349.7,293.4C348.5,294.2 347.4,294.8 346.2,295.5C345.1,296.2 343.9,296.8 342.7,297.5C341.6,298.1 340.4,298.7 339.2,299.2C338.0,299.8 336.9,300.3 335.6,300.8C334.4,301.3 333.0,301.8 331.7,302.2C330.4,302.6 329.2,302.9 327.9,303.2C326.6,303.4 325.3,303.6 324.0,303.7C322.7,303.8 321.3,303.8 319.9,303.7C318.5,303.5 317.0,303.3 315.6,302.9C314.3,302.5 313.0,302.0 311.9,301.4C310.7,300.8 309.6,300.0 308.6,299.1C307.6,298.3 306.7,297.3 306.0,296.3C305.3,295.2 304.8,294.1 304.4,292.9C304.0,291.6 303.8,290.2 303.8,288.9C303.7,287.6 303.9,286.3 304.2,285.1C304.4,283.8 304.9,282.5 305.4,281.3C305.9,280.1 306.5,278.9 307.3,277.7C308.0,276.5 308.9,275.2 309.7,274.1C310.6,273.0 311.4,271.9 312.3,270.9C313.1,269.9 314.0,268.9 314.9,267.9C315.8,266.9 316.7,266.0 317.5,265.0C318.4,264.1 319.3,263.1 320.3,262.2C321.2,261.2 322.3,260.1 323.3,259.2C324.2,258.2 325.2,257.4 326.2,256.5C327.2,255.6 328.2,254.7 329.2,253.8C330.2,252.9 331.3,252.1 332.4,251.2C333.4,250.4 334.7,249.4 335.8,248.6Z"/>
<circle cx="342.5" cy="274.1" r="1.7" fill="#00BA38" stroke="none"/>
</g>
<use href="#blue" x="0.00"/>
<use href="#pts" x="0.00"/>
<g fill="none" stroke="#00BA38" stroke-width="4.4" stroke-linejoin="round">
<path d="M809.2,250.1C811.1,248.3 812.8,246.7 814.7,245.0C816.5,243.3 818.4,241.6 820.3,240.0C822.2,238.3 824.1,236.6 826.0,235.0C827.9,233.3 829.7,231.7 831.7,230.0C833.7,228.3 835.8,226.4 837.7,224.7C839.6,223.0 841.4,221.4 843.2,219.8C845.1,218.1 846.9,216.4 848.7,214.8C850.5,213.1 852.3,211.5 854.2,209.7C856.1,208.0 858.2,206.0 860.2,204.3C862.1,202.6 864.0,201.0 865.9,199.4C867.9,197.8 869.9,196.2 871.9,194.7C874.0,193.2 876.0,191.8 878.2,190.4C880.3,189.1 882.3,187.8 884.6,186.6C886.8,185.4 889.4,184.2 891.7,183.2C894.0,182.2 896.2,181.3 898.5,180.6C900.8,179.8 903.2,179.2 905.6,178.6C907.9,178.1 910.3,177.7 912.8,177.4C915.4,177.1 918.3,176.9 920.9,176.8C923.6,176.8 926.1,176.8 928.6,177.1C931.2,177.3 933.8,177.6 936.4,178.2C938.9,178.7 941.4,179.4 943.8,180.2C946.2,181.1 948.4,182.1 950.6,183.4C952.8,184.7 955.0,186.3 956.8,187.9C958.5,189.6 960.0,191.3 961.2,193.3C962.4,195.2 963.3,197.3 964.0,199.6C964.7,201.8 965.1,204.0 965.3,206.5C965.5,209.0 965.4,211.9 965.1,214.5C964.9,217.1 964.4,219.6 963.8,222.2C963.3,224.7 962.5,227.3 961.7,229.8C961.0,232.3 960.1,234.8 959.2,237.2C958.3,239.6 957.4,241.9 956.4,244.2C955.3,246.6 954.2,249.2 953.1,251.5C952.0,253.7 951.0,255.8 949.8,257.9C948.7,260.0 947.5,262.0 946.2,264.1C944.9,266.1 943.6,268.0 942.1,270.0C940.6,272.0 938.8,274.2 937.1,276.2C935.3,278.1 933.6,279.9 931.8,281.7C930.0,283.5 928.1,285.2 926.1,286.9C924.2,288.7 922.2,290.3 920.2,292.0C918.2,293.6 916.3,295.2 914.2,296.8C912.2,298.4 909.9,300.2 907.9,301.7C905.9,303.3 904.0,304.7 902.1,306.2C900.2,307.6 898.3,309.1 896.3,310.5C894.4,312.0 892.5,313.4 890.5,314.9C888.4,316.3 886.1,317.9 884.0,319.4C881.9,320.8 879.8,322.1 877.6,323.4C875.5,324.7 873.2,326.0 870.9,327.2C868.7,328.5 866.3,329.6 864.0,330.7C861.6,331.8 859.3,332.8 856.9,333.8C854.4,334.7 851.7,335.7 849.3,336.5C846.8,337.3 844.5,337.9 842.2,338.5C839.8,339.0 837.5,339.5 835.1,339.9C832.8,340.3 830.5,340.6 828.0,340.8C825.6,341.1 822.8,341.2 820.3,341.2C817.8,341.2 815.4,341.1 812.8,340.9C810.3,340.7 807.8,340.3 805.2,339.8C802.7,339.3 800.1,338.7 797.6,337.9C795.0,337.1 792.6,336.2 790.2,335.0C787.8,333.9 785.2,332.4 783.1,330.8C781.0,329.3 779.2,327.6 777.7,325.8C776.1,324.0 774.8,322.0 773.8,320.0C772.8,317.9 772.0,315.7 771.6,313.4C771.2,311.1 771.2,308.3 771.4,305.9C771.5,303.5 772.1,301.1 772.8,298.8C773.5,296.4 774.5,294.0 775.5,291.7C776.6,289.4 777.9,287.2 779.2,285.0C780.6,282.8 782.0,280.7 783.6,278.6C785.1,276.4 786.9,274.1 788.6,272.1C790.2,270.1 791.8,268.3 793.4,266.4C795.1,264.5 796.7,262.7 798.4,260.9C800.1,259.2 801.7,257.5 803.5,255.6C805.3,253.8 807.3,251.9 809.2,250.1Z"/>
<path d="M826.7,252.0C828.0,250.6 829.2,249.4 830.5,248.1C831.8,246.9 833.1,245.6 834.5,244.4C835.8,243.2 837.2,241.9 838.5,240.7C839.9,239.5 841.3,238.4 842.7,237.1C844.2,235.9 845.8,234.5 847.2,233.3C848.7,232.1 850.0,231.0 851.4,229.8C852.8,228.7 854.2,227.5 855.6,226.4C857.0,225.2 858.3,224.1 859.8,222.9C861.2,221.7 862.8,220.4 864.3,219.3C865.7,218.1 867.1,217.0 868.5,215.9C869.9,214.8 871.4,213.7 872.9,212.6C874.3,211.6 875.8,210.5 877.4,209.6C878.9,208.6 880.4,207.6 882.1,206.7C883.7,205.8 885.6,204.8 887.3,204.0C889.0,203.2 890.6,202.5 892.3,201.9C894.0,201.3 895.7,200.7 897.5,200.2C899.2,199.8 901.0,199.4 902.8,199.1C904.6,198.8 906.7,198.6 908.6,198.6C910.4,198.5 912.2,198.6 913.9,198.8C915.7,199.0 917.5,199.4 919.2,199.8C921.0,200.3 922.7,200.9 924.3,201.7C925.9,202.4 927.5,203.3 929.0,204.4C930.5,205.4 932.1,206.8 933.4,208.1C934.7,209.4 935.8,210.9 936.7,212.4C937.7,213.9 938.6,215.5 939.2,217.2C939.9,218.9 940.4,220.6 940.8,222.4C941.2,224.2 941.4,226.3 941.4,228.2C941.4,230.1 941.3,231.9 941.0,233.7C940.8,235.5 940.4,237.3 939.9,239.0C939.4,240.7 938.7,242.5 938.0,244.1C937.3,245.8 936.6,247.4 935.7,249.0C934.8,250.6 933.8,252.4 932.8,254.0C931.8,255.5 930.8,256.9 929.7,258.4C928.6,259.8 927.5,261.2 926.4,262.6C925.3,264.0 924.1,265.3 922.9,266.8C921.6,268.2 920.2,269.7 918.9,271.1C917.6,272.4 916.4,273.7 915.1,275.0C913.8,276.3 912.4,277.6 911.1,278.8C909.8,280.1 908.4,281.3 907.1,282.6C905.7,283.8 904.4,284.9 903.0,286.2C901.6,287.4 900.0,288.8 898.6,290.0C897.2,291.2 895.9,292.3 894.5,293.5C893.2,294.7 891.8,295.8 890.4,297.0C889.0,298.1 887.7,299.2 886.2,300.4C884.7,301.5 883.1,302.8 881.6,303.9C880.1,305.1 878.6,306.1 877.1,307.1C875.6,308.2 874.0,309.2 872.5,310.1C870.9,311.1 869.3,312.0 867.6,312.8C866.0,313.7 864.4,314.5 862.7,315.2C861.0,315.9 859.0,316.7 857.3,317.3C855.5,317.9 853.9,318.4 852.1,318.8C850.4,319.3 848.7,319.7 846.9,319.9C845.2,320.2 843.5,320.5 841.7,320.6C839.8,320.7 837.8,320.8 835.9,320.8C834.0,320.8 832.3,320.6 830.4,320.4C828.6,320.2 826.8,319.9 825.0,319.5C823.2,319.1 821.3,318.5 819.6,317.9C817.9,317.2 816.2,316.5 814.5,315.6C812.9,314.6 811.1,313.4 809.6,312.3C808.2,311.1 807.0,309.8 805.9,308.4C804.8,307.1 803.9,305.6 803.1,304.0C802.4,302.5 801.8,300.9 801.5,299.1C801.1,297.4 801.0,295.4 801.0,293.6C801.1,291.8 801.4,290.0 801.7,288.3C802.1,286.5 802.7,284.8 803.4,283.1C804.1,281.4 804.9,279.7 805.8,278.0C806.7,276.4 807.7,274.9 808.7,273.3C809.8,271.7 811.0,270.0 812.2,268.4C813.3,266.9 814.5,265.6 815.6,264.2C816.8,262.8 817.9,261.4 819.1,260.1C820.3,258.7 821.5,257.5 822.7,256.1C824.0,254.8 825.4,253.3 826.7,252.0Z"/>
<path d="M843.7,250.0C844.7,249.0 845.7,248.1 846.7,247.2C847.6,246.3 848.6,245.4 849.7,244.6C850.7,243.7 851.7,242.8 852.7,241.9C853.7,241.1 854.7,240.2 855.8,239.3C856.9,238.5 858.1,237.5 859.2,236.6C860.3,235.8 861.3,235.0 862.4,234.2C863.4,233.4 864.5,232.6 865.5,231.8C866.6,231.0 867.6,230.2 868.8,229.4C869.9,228.6 871.1,227.8 872.3,227.0C873.4,226.3 874.5,225.6 875.6,224.9C876.8,224.2 877.9,223.5 879.1,222.9C880.3,222.3 881.5,221.7 882.7,221.1C883.9,220.5 885.1,220.0 886.4,219.5C887.7,219.0 889.2,218.5 890.5,218.1C891.8,217.7 893.1,217.4 894.4,217.2C895.7,216.9 897.0,216.7 898.4,216.6C899.7,216.5 901.0,216.5 902.3,216.6C903.7,216.7 905.2,216.9 906.5,217.2C907.8,217.5 909.0,217.9 910.1,218.4C911.3,219.0 912.5,219.6 913.6,220.3C914.6,221.1 915.6,221.9 916.6,222.9C917.5,223.8 918.3,224.8 919.1,226.0C919.9,227.1 920.6,228.5 921.2,229.8C921.8,231.0 922.2,232.3 922.5,233.6C922.8,234.9 923.0,236.3 923.1,237.6C923.2,238.9 923.1,240.3 923.0,241.6C922.9,243.0 922.6,244.5 922.2,245.8C921.9,247.1 921.4,248.3 920.9,249.5C920.4,250.7 919.8,251.9 919.2,253.0C918.5,254.1 917.8,255.2 917.1,256.3C916.3,257.4 915.5,258.4 914.7,259.5C913.8,260.6 912.8,261.7 911.9,262.7C910.9,263.8 910.1,264.7 909.1,265.7C908.2,266.7 907.2,267.6 906.3,268.6C905.3,269.5 904.4,270.4 903.4,271.4C902.4,272.3 901.3,273.4 900.2,274.3C899.2,275.3 898.2,276.1 897.3,277.0C896.3,277.9 895.2,278.8 894.2,279.6C893.2,280.5 892.2,281.4 891.2,282.2C890.2,283.1 889.2,283.9 888.1,284.7C887.1,285.6 885.9,286.6 884.8,287.4C883.7,288.3 882.7,289.1 881.7,289.9C880.6,290.7 879.6,291.6 878.5,292.4C877.4,293.2 876.4,293.9 875.2,294.7C874.1,295.5 872.8,296.4 871.6,297.2C870.5,297.9 869.4,298.6 868.2,299.3C867.1,300.0 865.9,300.6 864.7,301.2C863.5,301.8 862.3,302.4 861.1,302.9C859.9,303.4 858.7,303.9 857.4,304.3C856.1,304.8 854.7,305.2 853.3,305.5C852.0,305.8 850.8,306.1 849.4,306.3C848.1,306.4 846.8,306.6 845.5,306.6C844.1,306.7 842.8,306.7 841.5,306.5C840.1,306.4 838.6,306.2 837.2,305.9C835.8,305.6 834.6,305.2 833.3,304.7C832.1,304.2 830.9,303.6 829.7,302.9C828.6,302.2 827.5,301.5 826.5,300.6C825.5,299.7 824.6,298.8 823.8,297.7C823.0,296.6 822.2,295.3 821.6,294.1C821.0,292.9 820.6,291.7 820.3,290.4C820.0,289.1 819.9,287.8 819.8,286.5C819.8,285.2 819.9,283.9 820.1,282.6C820.3,281.2 820.7,279.8 821.1,278.5C821.6,277.2 822.1,276.0 822.7,274.8C823.3,273.6 824.0,272.4 824.7,271.3C825.4,270.1 826.2,269.0 827.0,267.9C827.9,266.9 828.7,265.8 829.6,264.8C830.5,263.7 831.5,262.6 832.4,261.5C833.3,260.5 834.2,259.6 835.1,258.6C836.0,257.7 836.9,256.7 837.9,255.8C838.8,254.8 839.7,253.9 840.7,252.9C841.6,252.0 842.7,250.9 843.7,250.0Z"/>
<path d="M860.9,248.8C861.8,248.3 862.5,247.8 863.3,247.3C864.1,246.7 864.8,246.2 865.6,245.6C866.3,245.0 867.0,244.4 867.8,243.9C868.5,243.3 869.2,242.7 870.0,242.1C870.7,241.5 871.6,240.8 872.3,240.3C873.1,239.7 873.9,239.2 874.7,238.7C875.5,238.2 876.3,237.7 877.1,237.2C877.9,236.8 878.8,236.4 879.7,235.9C880.6,235.5 881.6,235.1 882.5,234.8C883.5,234.4 884.4,234.1 885.3,233.9C886.2,233.6 887.1,233.4 888.1,233.2C889.0,233.1 889.9,232.9 890.8,232.9C891.7,232.8 892.6,232.8 893.5,232.9C894.5,232.9 895.5,233.1 896.4,233.3C897.2,233.5 898.1,233.9 898.9,234.2C899.7,234.6 900.5,235.1 901.2,235.7C902.0,236.2 902.7,236.8 903.4,237.6C904.1,238.3 904.8,239.2 905.4,240.0C905.9,240.9 906.4,241.7 906.8,242.6C907.2,243.5 907.6,244.4 907.8,245.3C908.1,246.3 908.2,247.2 908.3,248.1C908.3,249.0 908.3,249.9 908.2,250.8C908.1,251.7 907.8,252.6 907.5,253.5C907.2,254.4 906.8,255.1 906.4,255.9C905.9,256.7 905.4,257.4 904.8,258.2C904.3,258.9 903.7,259.6 903.1,260.3C902.4,261.1 901.7,261.8 901.0,262.6C900.3,263.3 899.6,263.9 898.9,264.6C898.2,265.3 897.6,266.0 896.9,266.7C896.2,267.3 895.5,268.0 894.8,268.7C894.1,269.3 893.5,270.0 892.8,270.6C892.0,271.3 891.3,272.0 890.5,272.7C889.8,273.3 889.2,273.9 888.4,274.5C887.7,275.1 887.0,275.7 886.3,276.3C885.6,276.9 884.9,277.5 884.1,278.1C883.4,278.7 882.5,279.4 881.7,280.0C881.0,280.6 880.2,281.2 879.5,281.8C878.7,282.3 878.0,282.9 877.2,283.5C876.4,284.1 875.7,284.7 874.9,285.2C874.1,285.8 873.4,286.3 872.6,286.9C871.8,287.4 870.9,288.0 870.0,288.5C869.2,289.0 868.4,289.5 867.6,289.9C866.8,290.3 865.9,290.7 865.1,291.1C864.2,291.5 863.4,291.8 862.5,292.2C861.5,292.5 860.5,292.8 859.6,293.1C858.6,293.3 857.8,293.5 856.8,293.7C855.9,293.8 855.0,294.0 854.0,294.1C853.1,294.1 852.1,294.2 851.2,294.1C850.3,294.1 849.3,294.1 848.4,293.9C847.4,293.8 846.4,293.6 845.4,293.3C844.5,293.0 843.6,292.7 842.8,292.3C841.9,291.9 841.1,291.4 840.3,290.8C839.6,290.3 838.9,289.7 838.2,289.0C837.5,288.3 836.8,287.5 836.2,286.7C835.7,285.9 835.2,285.1 834.8,284.3C834.5,283.5 834.2,282.6 833.9,281.7C833.7,280.8 833.6,279.9 833.5,279.0C833.5,278.0 833.5,277.2 833.6,276.2C833.8,275.3 834.0,274.2 834.2,273.3C834.5,272.3 834.8,271.5 835.2,270.6C835.6,269.7 836.0,268.8 836.4,268.0C836.9,267.1 837.4,266.3 837.9,265.5C838.5,264.7 839.1,263.8 839.7,263.0C840.3,262.2 840.9,261.5 841.5,260.8C842.2,260.2 842.8,259.5 843.5,258.9C844.2,258.3 844.9,257.7 845.7,257.1C846.4,256.6 847.2,256.1 848.0,255.6C848.8,255.1 849.7,254.6 850.6,254.1C851.4,253.7 852.3,253.3 853.1,252.9C854.0,252.4 854.8,252.0 855.7,251.6C856.5,251.2 857.4,250.8 858.2,250.3C859.1,249.8 860.1,249.3 860.9,248.8Z"/>
<circle cx="872.6" cy="261.6" r="1.7" fill="#00BA38" stroke="none"/>
</g>
<use href="#blue" x="498.65"/>
<use href="#pts" x="498.65"/>
<g fill="none" stroke="#00BA38" stroke-width="4.4" stroke-linejoin="round">
<path d="M1337.8,225.2C1339.0,223.8 1340.1,222.6 1341.4,221.3C1342.6,220.1 1343.8,218.9 1345.2,217.8C1346.5,216.6 1347.8,215.5 1349.2,214.5C1350.6,213.5 1351.9,212.5 1353.5,211.6C1355.0,210.7 1356.7,209.7 1358.3,208.9C1359.8,208.1 1361.3,207.5 1362.9,206.8C1364.5,206.2 1366.1,205.6 1367.8,205.1C1369.4,204.6 1371.1,204.2 1372.8,203.8C1374.6,203.5 1376.5,203.1 1378.3,202.9C1380.1,202.6 1381.8,202.5 1383.6,202.4C1385.4,202.3 1387.1,202.3 1388.9,202.3C1390.7,202.4 1392.5,202.4 1394.2,202.6C1396.0,202.8 1397.7,203.0 1399.5,203.3C1401.3,203.6 1403.3,203.9 1405.1,204.4C1406.9,204.8 1408.5,205.2 1410.1,205.8C1411.8,206.3 1413.4,206.9 1415.0,207.6C1416.6,208.2 1418.1,208.9 1419.6,209.7C1421.1,210.5 1422.8,211.5 1424.3,212.4C1425.7,213.4 1427.0,214.3 1428.3,215.4C1429.6,216.4 1430.8,217.5 1432.0,218.7C1433.2,219.8 1434.4,221.1 1435.4,222.4C1436.5,223.7 1437.5,225.0 1438.5,226.4C1439.5,227.9 1440.6,229.6 1441.5,231.1C1442.3,232.7 1443.1,234.2 1443.9,235.9C1444.6,237.5 1445.3,239.1 1445.9,240.8C1446.5,242.5 1447.1,244.2 1447.6,246.0C1448.1,247.8 1448.6,249.9 1449.0,251.7C1449.3,253.6 1449.6,255.3 1449.8,257.1C1450.1,258.9 1450.2,260.7 1450.3,262.5C1450.3,264.2 1450.3,266.0 1450.2,267.8C1450.2,269.5 1450.0,271.2 1449.7,272.9C1449.4,274.6 1449.0,276.5 1448.6,278.2C1448.1,279.8 1447.6,281.3 1447.0,282.8C1446.3,284.3 1445.6,285.8 1444.8,287.2C1444.0,288.5 1443.2,289.9 1442.1,291.2C1441.1,292.5 1439.9,293.9 1438.7,295.1C1437.5,296.4 1436.3,297.4 1435.0,298.5C1433.7,299.5 1432.3,300.6 1430.9,301.5C1429.5,302.5 1428.0,303.4 1426.4,304.2C1424.9,305.1 1423.3,305.9 1421.7,306.7C1420.0,307.4 1418.1,308.3 1416.3,308.9C1414.6,309.6 1413.0,310.2 1411.2,310.8C1409.5,311.4 1407.8,311.9 1406.0,312.4C1404.3,312.9 1402.6,313.3 1400.8,313.7C1399.0,314.1 1397.1,314.5 1395.3,314.8C1393.5,315.1 1391.8,315.4 1390.1,315.6C1388.4,315.8 1386.7,315.9 1385.1,316.0C1383.4,316.0 1381.7,316.1 1380.1,316.0C1378.4,316.0 1376.8,315.9 1375.1,315.7C1373.5,315.5 1371.6,315.2 1370.0,314.9C1368.3,314.5 1366.8,314.1 1365.2,313.7C1363.6,313.2 1362.0,312.6 1360.5,312.0C1358.9,311.4 1357.5,310.7 1355.9,309.9C1354.3,309.1 1352.6,308.1 1351.1,307.2C1349.6,306.2 1348.2,305.3 1346.8,304.2C1345.3,303.2 1344.0,302.0 1342.6,300.8C1341.3,299.7 1340.0,298.4 1338.7,297.1C1337.5,295.8 1336.3,294.5 1335.1,293.1C1334.0,291.6 1332.7,289.9 1331.7,288.4C1330.7,286.9 1329.8,285.4 1329.0,283.8C1328.1,282.3 1327.4,280.7 1326.7,279.1C1326.0,277.5 1325.5,275.9 1325.0,274.2C1324.5,272.5 1324.0,270.6 1323.8,268.8C1323.5,267.1 1323.3,265.5 1323.2,263.8C1323.1,262.1 1323.1,260.4 1323.3,258.7C1323.4,257.1 1323.6,255.4 1323.9,253.7C1324.1,252.0 1324.5,250.4 1325.0,248.7C1325.5,247.0 1326.1,245.1 1326.8,243.5C1327.4,241.8 1328.1,240.3 1328.9,238.7C1329.7,237.1 1330.5,235.6 1331.4,234.1C1332.3,232.6 1333.3,231.2 1334.3,229.7C1335.4,228.2 1336.6,226.6 1337.8,225.2Z"/>
<path d="M1340.4,251.2C1340.5,250.0 1340.8,248.8 1341.1,247.6C1341.4,246.4 1341.8,245.2 1342.3,244.0C1342.7,242.8 1343.2,241.7 1343.8,240.5C1344.4,239.4 1345.0,238.4 1345.7,237.2C1346.4,236.1 1347.3,235.0 1348.1,233.9C1348.9,232.9 1349.7,231.9 1350.6,231.0C1351.5,230.1 1352.5,229.2 1353.5,228.3C1354.5,227.4 1355.5,226.6 1356.6,225.8C1357.7,225.0 1358.9,224.2 1360.1,223.5C1361.3,222.7 1362.4,222.1 1363.6,221.5C1364.8,220.9 1366.0,220.4 1367.2,219.9C1368.4,219.4 1369.6,218.9 1370.9,218.5C1372.1,218.1 1373.4,217.7 1374.7,217.4C1376.0,217.1 1377.5,216.8 1378.8,216.6C1380.1,216.3 1381.4,216.2 1382.6,216.1C1383.9,216.0 1385.2,215.9 1386.5,215.9C1387.8,215.9 1389.0,216.0 1390.3,216.1C1391.6,216.2 1393.0,216.4 1394.3,216.6C1395.6,216.8 1396.8,217.1 1398.0,217.4C1399.3,217.7 1400.5,218.1 1401.7,218.5C1402.9,218.9 1404.0,219.4 1405.2,219.9C1406.4,220.4 1407.5,220.9 1408.6,221.6C1409.8,222.2 1411.1,223.0 1412.2,223.7C1413.3,224.4 1414.3,225.2 1415.3,226.0C1416.4,226.8 1417.4,227.6 1418.3,228.5C1419.3,229.4 1420.2,230.3 1421.1,231.2C1422.1,232.2 1423.1,233.4 1423.9,234.4C1424.8,235.5 1425.5,236.5 1426.3,237.6C1427.0,238.7 1427.7,239.9 1428.3,241.0C1429.0,242.2 1429.6,243.3 1430.1,244.5C1430.7,245.7 1431.2,246.9 1431.6,248.1C1432.1,249.4 1432.5,250.8 1432.8,252.1C1433.2,253.4 1433.4,254.6 1433.6,255.9C1433.8,257.2 1433.9,258.5 1434.0,259.7C1434.1,261.0 1434.1,262.2 1434.0,263.5C1433.9,264.8 1433.8,266.3 1433.6,267.5C1433.4,268.8 1433.1,270.0 1432.8,271.2C1432.5,272.4 1432.1,273.6 1431.6,274.8C1431.1,276.0 1430.6,277.2 1430.1,278.3C1429.5,279.4 1428.9,280.5 1428.1,281.6C1427.4,282.7 1426.6,283.9 1425.7,285.0C1424.9,286.0 1424.1,287.0 1423.2,287.9C1422.3,288.8 1421.3,289.7 1420.4,290.6C1419.4,291.5 1418.4,292.3 1417.3,293.1C1416.2,293.9 1415.0,294.7 1413.8,295.5C1412.6,296.2 1411.5,296.8 1410.4,297.4C1409.2,298.0 1408.0,298.6 1406.8,299.1C1405.6,299.6 1404.4,300.0 1403.1,300.4C1401.9,300.8 1400.7,301.2 1399.4,301.5C1398.1,301.8 1396.7,302.1 1395.3,302.3C1394.0,302.6 1392.8,302.7 1391.5,302.8C1390.3,302.9 1389.0,302.9 1387.8,302.9C1386.5,302.9 1385.3,302.9 1384.0,302.8C1382.7,302.6 1381.3,302.5 1380.0,302.2C1378.7,302.0 1377.5,301.7 1376.3,301.4C1375.1,301.1 1373.9,300.7 1372.7,300.3C1371.5,299.9 1370.4,299.4 1369.2,298.9C1368.1,298.4 1366.9,297.8 1365.8,297.2C1364.6,296.5 1363.4,295.8 1362.3,295.0C1361.1,294.3 1360.1,293.5 1359.1,292.7C1358.1,291.9 1357.1,291.1 1356.1,290.2C1355.1,289.3 1354.2,288.4 1353.3,287.4C1352.3,286.4 1351.3,285.3 1350.5,284.2C1349.6,283.2 1348.8,282.1 1348.1,281.0C1347.3,279.9 1346.6,278.8 1346.0,277.7C1345.3,276.5 1344.7,275.4 1344.1,274.2C1343.5,273.0 1343.0,271.8 1342.6,270.5C1342.1,269.3 1341.6,267.9 1341.3,266.6C1341.0,265.3 1340.7,264.1 1340.5,262.8C1340.3,261.5 1340.1,260.3 1340.0,259.0C1340.0,257.8 1339.9,256.5 1340.0,255.2C1340.0,253.9 1340.2,252.5 1340.4,251.2Z"/>
<path d="M1351.7,251.1C1351.9,250.1 1352.1,249.3 1352.4,248.4C1352.7,247.5 1353.0,246.6 1353.4,245.8C1353.7,244.9 1354.2,244.1 1354.6,243.2C1355.1,242.4 1355.6,241.6 1356.2,240.8C1356.7,240.0 1357.4,239.1 1358.1,238.3C1358.7,237.5 1359.4,236.8 1360.1,236.1C1360.8,235.4 1361.5,234.8 1362.3,234.1C1363.0,233.5 1363.8,232.9 1364.6,232.3C1365.5,231.8 1366.4,231.2 1367.3,230.6C1368.2,230.1 1369.0,229.7 1369.9,229.3C1370.8,228.9 1371.7,228.5 1372.6,228.2C1373.5,227.9 1374.4,227.6 1375.3,227.3C1376.2,227.1 1377.1,226.8 1378.1,226.7C1379.0,226.5 1380.1,226.4 1381.0,226.3C1382.0,226.2 1382.9,226.1 1383.8,226.1C1384.7,226.1 1385.7,226.2 1386.6,226.2C1387.5,226.3 1388.4,226.4 1389.3,226.6C1390.2,226.7 1391.3,226.9 1392.2,227.1C1393.1,227.4 1394.0,227.6 1394.8,227.9C1395.7,228.2 1396.6,228.5 1397.4,228.9C1398.3,229.3 1399.1,229.6 1400.0,230.1C1400.8,230.5 1401.6,230.9 1402.4,231.4C1403.3,231.9 1404.2,232.5 1405.0,233.1C1405.8,233.6 1406.5,234.2 1407.2,234.8C1408.0,235.4 1408.7,236.0 1409.4,236.6C1410.1,237.3 1410.8,237.9 1411.5,238.7C1412.1,239.4 1412.8,240.2 1413.5,241.0C1414.1,241.8 1414.6,242.5 1415.2,243.3C1415.7,244.1 1416.2,244.9 1416.7,245.8C1417.2,246.6 1417.6,247.4 1418.0,248.3C1418.4,249.2 1418.8,250.0 1419.1,251.0C1419.4,251.9 1419.7,252.9 1420.0,253.9C1420.2,254.8 1420.4,255.7 1420.5,256.7C1420.7,257.6 1420.8,258.6 1420.8,259.5C1420.9,260.4 1420.9,261.4 1420.8,262.3C1420.8,263.3 1420.6,264.4 1420.5,265.4C1420.3,266.3 1420.1,267.2 1419.9,268.2C1419.6,269.1 1419.3,270.0 1419.0,270.9C1418.7,271.7 1418.3,272.6 1417.9,273.5C1417.4,274.3 1417.0,275.1 1416.4,276.0C1415.9,276.8 1415.3,277.7 1414.7,278.4C1414.1,279.2 1413.5,279.9 1412.8,280.6C1412.1,281.3 1411.5,281.9 1410.7,282.5C1410.0,283.1 1409.3,283.7 1408.5,284.2C1407.7,284.8 1406.8,285.3 1406.0,285.8C1405.1,286.3 1404.3,286.7 1403.5,287.0C1402.6,287.4 1401.7,287.7 1400.9,288.0C1400.0,288.3 1399.1,288.5 1398.2,288.7C1397.3,288.9 1396.4,289.1 1395.5,289.2C1394.5,289.3 1393.5,289.4 1392.5,289.4C1391.5,289.4 1390.6,289.4 1389.7,289.4C1388.8,289.3 1387.9,289.2 1386.9,289.1C1386.0,289.0 1385.1,288.8 1384.1,288.6C1383.2,288.4 1382.1,288.2 1381.2,287.9C1380.2,287.6 1379.3,287.3 1378.4,287.0C1377.5,286.7 1376.6,286.3 1375.7,285.9C1374.8,285.6 1374.0,285.2 1373.1,284.7C1372.2,284.3 1371.4,283.8 1370.5,283.3C1369.6,282.8 1368.7,282.2 1367.8,281.7C1367.0,281.1 1366.2,280.6 1365.4,280.0C1364.6,279.4 1363.8,278.8 1363.1,278.2C1362.4,277.5 1361.7,276.9 1360.9,276.2C1360.2,275.5 1359.5,274.7 1358.8,274.0C1358.1,273.3 1357.6,272.6 1357.0,271.8C1356.4,271.1 1355.9,270.3 1355.4,269.5C1354.9,268.7 1354.4,268.0 1354.0,267.1C1353.6,266.3 1353.2,265.5 1352.9,264.7C1352.6,263.8 1352.2,262.8 1352.0,261.9C1351.8,261.0 1351.6,260.2 1351.5,259.3C1351.3,258.4 1351.3,257.5 1351.2,256.6C1351.2,255.7 1351.2,254.9 1351.3,253.9C1351.4,253.0 1351.5,252.0 1351.7,251.1Z"/>
<path d="M1362.6,251.5C1362.8,250.9 1363.0,250.4 1363.2,249.8C1363.4,249.3 1363.6,248.7 1363.9,248.2C1364.2,247.6 1364.4,247.1 1364.8,246.6C1365.1,246.1 1365.4,245.6 1365.8,245.1C1366.2,244.6 1366.6,244.0 1367.1,243.5C1367.5,243.1 1367.9,242.6 1368.4,242.2C1368.8,241.8 1369.3,241.4 1369.8,241.0C1370.3,240.6 1370.8,240.3 1371.4,239.9C1371.9,239.5 1372.6,239.2 1373.2,238.9C1373.8,238.5 1374.3,238.3 1374.9,238.0C1375.5,237.8 1376.2,237.5 1376.8,237.3C1377.4,237.1 1378.0,236.9 1378.7,236.8C1379.3,236.6 1379.9,236.5 1380.6,236.4C1381.3,236.3 1382.1,236.2 1382.7,236.1C1383.4,236.1 1384.1,236.1 1384.7,236.1C1385.4,236.1 1386.1,236.1 1386.8,236.2C1387.4,236.2 1388.1,236.3 1388.8,236.4C1389.4,236.5 1390.2,236.7 1390.9,236.8C1391.5,237.0 1392.2,237.2 1392.8,237.4C1393.4,237.6 1394.1,237.9 1394.7,238.1C1395.3,238.4 1395.9,238.7 1396.5,239.0C1397.1,239.3 1397.6,239.6 1398.2,240.0C1398.8,240.4 1399.4,240.8 1399.9,241.2C1400.5,241.6 1401.0,242.0 1401.5,242.5C1402.0,242.9 1402.4,243.4 1402.9,243.8C1403.3,244.3 1403.7,244.8 1404.2,245.3C1404.6,245.9 1405.0,246.5 1405.4,247.0C1405.7,247.6 1406.1,248.1 1406.4,248.7C1406.7,249.2 1407.0,249.8 1407.2,250.4C1407.5,251.0 1407.7,251.6 1407.9,252.2C1408.1,252.8 1408.3,253.3 1408.4,254.0C1408.6,254.6 1408.7,255.3 1408.8,255.9C1408.9,256.6 1408.9,257.2 1408.9,257.8C1409.0,258.4 1409.0,259.0 1408.9,259.6C1408.9,260.2 1408.9,260.8 1408.8,261.4C1408.7,262.1 1408.6,262.7 1408.4,263.4C1408.3,264.0 1408.1,264.5 1407.9,265.1C1407.7,265.7 1407.5,266.2 1407.2,266.8C1407.0,267.3 1406.7,267.8 1406.4,268.4C1406.1,268.9 1405.7,269.4 1405.4,269.9C1405.0,270.4 1404.6,270.9 1404.1,271.4C1403.7,271.9 1403.3,272.3 1402.8,272.7C1402.4,273.1 1401.9,273.5 1401.4,273.9C1400.9,274.2 1400.4,274.6 1399.9,274.9C1399.3,275.3 1398.7,275.6 1398.1,275.9C1397.5,276.2 1397.0,276.5 1396.4,276.7C1395.8,276.9 1395.2,277.1 1394.5,277.3C1393.9,277.5 1393.3,277.7 1392.6,277.8C1392.0,277.9 1391.4,278.0 1390.7,278.1C1390.0,278.2 1389.2,278.3 1388.6,278.3C1387.9,278.4 1387.2,278.4 1386.5,278.3C1385.9,278.3 1385.2,278.3 1384.5,278.2C1383.8,278.1 1383.2,278.0 1382.5,277.9C1381.8,277.8 1381.0,277.6 1380.3,277.4C1379.7,277.2 1379.0,277.0 1378.4,276.8C1377.7,276.6 1377.1,276.4 1376.5,276.1C1375.8,275.8 1375.2,275.5 1374.6,275.2C1374.0,274.9 1373.5,274.6 1372.9,274.2C1372.3,273.9 1371.6,273.4 1371.1,273.0C1370.5,272.6 1370.0,272.2 1369.5,271.8C1369.0,271.3 1368.6,270.9 1368.1,270.4C1367.6,270.0 1367.2,269.5 1366.8,269.0C1366.4,268.5 1365.9,267.9 1365.6,267.4C1365.2,266.8 1364.9,266.3 1364.6,265.8C1364.2,265.2 1364.0,264.7 1363.7,264.1C1363.5,263.5 1363.2,263.0 1363.0,262.4C1362.8,261.8 1362.7,261.3 1362.5,260.6C1362.4,260.0 1362.2,259.4 1362.1,258.7C1362.1,258.1 1362.0,257.6 1362.0,257.0C1362.0,256.4 1362.0,255.8 1362.0,255.2C1362.1,254.6 1362.1,254.0 1362.2,253.4C1362.3,252.8 1362.5,252.1 1362.6,251.5Z"/>
<circle cx="1386.0" cy="254.5" r="1.7" fill="#00BA38" stroke="none"/>
</g>
<use href="#blue" x="997.30"/>
<use href="#pts" x="997.30"/>
<line x1="124" x2="132.2" y1="142.03" y2="142.03" stroke="#333" stroke-width="3.2"/>
<text x="116.5" y="152.1" font-size="29.3" fill="#4D4D4D" text-anchor="end" textLength="58.5" lengthAdjust="spacingAndGlyphs">0.25</text>
<line x1="124" x2="132.2" y1="239.00" y2="239.00" stroke="#333" stroke-width="3.2"/>
<text x="116.5" y="249.1" font-size="29.3" fill="#4D4D4D" text-anchor="end" textLength="58.5" lengthAdjust="spacingAndGlyphs">0.00</text>
<line x1="124" x2="132.2" y1="335.98" y2="335.98" stroke="#333" stroke-width="3.2"/>
<text x="116.5" y="346.1" font-size="29.3" fill="#4D4D4D" text-anchor="end" textLength="69" lengthAdjust="spacingAndGlyphs">-0.25</text>
<line x1="124" x2="132.2" y1="432.95" y2="432.95" stroke="#333" stroke-width="3.2"/>
<text x="116.5" y="443.1" font-size="29.3" fill="#4D4D4D" text-anchor="end" textLength="69" lengthAdjust="spacingAndGlyphs">-0.50</text>
<text x="201.4" y="536.2" font-size="29.3" fill="#4D4D4D" text-anchor="middle" textLength="51" lengthAdjust="spacingAndGlyphs">-0.2</text>
<text x="299.9" y="536.2" font-size="29.3" fill="#4D4D4D" text-anchor="middle" textLength="41.5" lengthAdjust="spacingAndGlyphs">0.0</text>
<text x="397.9" y="536.2" font-size="29.3" fill="#4D4D4D" text-anchor="middle" textLength="41.5" lengthAdjust="spacingAndGlyphs">0.2</text>
<text x="496.0" y="536.2" font-size="29.3" fill="#4D4D4D" text-anchor="middle" textLength="41.5" lengthAdjust="spacingAndGlyphs">0.4</text>
<text x="594.0" y="536.2" font-size="29.3" fill="#4D4D4D" text-anchor="middle" textLength="41.5" lengthAdjust="spacingAndGlyphs">0.6</text>
<text x="700.0" y="536.2" font-size="29.3" fill="#4D4D4D" text-anchor="middle" textLength="51" lengthAdjust="spacingAndGlyphs">-0.2</text>
<text x="798.5" y="536.2" font-size="29.3" fill="#4D4D4D" text-anchor="middle" textLength="41.5" lengthAdjust="spacingAndGlyphs">0.0</text>
<text x="896.6" y="536.2" font-size="29.3" fill="#4D4D4D" text-anchor="middle" textLength="41.5" lengthAdjust="spacingAndGlyphs">0.2</text>
<text x="994.6" y="536.2" font-size="29.3" fill="#4D4D4D" text-anchor="middle" textLength="41.5" lengthAdjust="spacingAndGlyphs">0.4</text>
<text x="1092.7" y="536.2" font-size="29.3" fill="#4D4D4D" text-anchor="middle" textLength="41.5" lengthAdjust="spacingAndGlyphs">0.6</text>
<text x="1198.7" y="536.2" font-size="29.3" fill="#4D4D4D" text-anchor="middle" textLength="51" lengthAdjust="spacingAndGlyphs">-0.2</text>
<text x="1297.2" y="536.2" font-size="29.3" fill="#4D4D4D" text-anchor="middle" textLength="41.5" lengthAdjust="spacingAndGlyphs">0.0</text>
<text x="1395.2" y="536.2" font-size="29.3" fill="#4D4D4D" text-anchor="middle" textLength="41.5" lengthAdjust="spacingAndGlyphs">0.2</text>
<text x="1493.3" y="536.2" font-size="29.3" fill="#4D4D4D" text-anchor="middle" textLength="41.5" lengthAdjust="spacingAndGlyphs">0.4</text>
<text x="1591.3" y="536.2" font-size="29.3" fill="#4D4D4D" text-anchor="middle" textLength="41.5" lengthAdjust="spacingAndGlyphs">0.6</text>
<text x="330.2" y="36.4" font-size="29.3" fill="#1A1A1A" textLength="14" lengthAdjust="spacingAndGlyphs">c</text>
<rect x="363.4" y="23.7" width="17.4" height="2.2" fill="#1A1A1A"/><rect x="363.4" y="29.0" width="17.4" height="2.2" fill="#1A1A1A"/>
<text x="399.5" y="36.4" font-size="29.3" fill="#1A1A1A" textLength="16.5" lengthAdjust="spacingAndGlyphs">1</text>
<text x="803.2" y="36.4" font-size="29.3" fill="#1A1A1A" textLength="14" lengthAdjust="spacingAndGlyphs">c</text>
<rect x="836.4" y="23.7" width="17.4" height="2.2" fill="#1A1A1A"/><rect x="836.4" y="29.0" width="17.4" height="2.2" fill="#1A1A1A"/>
<text x="872.6" y="36.4" font-size="29.3" fill="#1A1A1A" textLength="67.5" lengthAdjust="spacingAndGlyphs">1000</text>
<text x="1293.2" y="36.4" font-size="29.3" fill="#1A1A1A" textLength="14" lengthAdjust="spacingAndGlyphs">c</text>
<rect x="1326.6" y="23.7" width="17.4" height="2.2" fill="#1A1A1A"/><rect x="1326.6" y="29.0" width="17.4" height="2.2" fill="#1A1A1A"/>
<text x="1362.0" y="36.4" font-size="29.3" fill="#1A1A1A" textLength="85.0" lengthAdjust="spacingAndGlyphs">20000</text>
<text x="847.6" y="575.2" font-size="35.6" fill="#000" textLength="19" lengthAdjust="spacingAndGlyphs">β</text>
<text x="867" y="583" font-size="23.5" fill="#000" textLength="29.5" lengthAdjust="spacingAndGlyphs">21</text>
<g transform="translate(25.0,300.2) rotate(-90)"><text x="0" y="0" font-size="35.6" fill="#000" textLength="19" lengthAdjust="spacingAndGlyphs">β</text><text x="20.0" y="7.8" font-size="23.5" fill="#000" textLength="29.5" lengthAdjust="spacingAndGlyphs">22</text></g>
</svg>
</body></html>
